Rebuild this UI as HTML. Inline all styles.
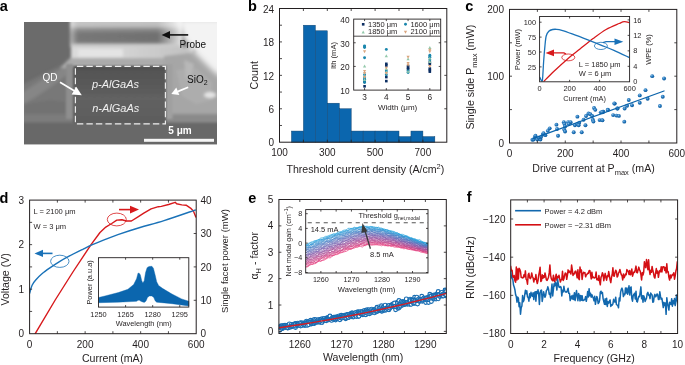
<!DOCTYPE html>
<html><head><meta charset="utf-8"><style>
html,body{margin:0;padding:0;background:#fff;}
svg{display:block;will-change:transform;font-family:"Liberation Sans", sans-serif;}
</style></head><body>
<svg width="685" height="365" viewBox="0 0 685 365">
<rect width="685" height="365" fill="#fff"/>
<defs><clipPath id="semclip"><rect x="24" y="22" width="193" height="122.3"/></clipPath><filter id="bl2" x="-20%" y="-20%" width="140%" height="140%"><feGaussianBlur stdDeviation="1.5"/></filter><filter id="bl1" x="-20%" y="-20%" width="140%" height="140%"><feGaussianBlur stdDeviation="0.8"/></filter><filter id="bl3" x="-30%" y="-30%" width="160%" height="160%"><feGaussianBlur stdDeviation="2.5"/></filter><linearGradient id="probeg" gradientUnits="userSpaceOnUse" x1="0" y1="18" x2="0" y2="47"><stop offset="0" stop-color="#cacaca"/><stop offset="0.28" stop-color="#bdbdbd"/><stop offset="0.38" stop-color="#8c8c8c"/><stop offset="0.55" stop-color="#6f6f6f"/><stop offset="0.8" stop-color="#727272"/><stop offset="1" stop-color="#9a9a9a"/></linearGradient><linearGradient id="probefade" gradientUnits="userSpaceOnUse" x1="70" y1="0" x2="182" y2="0"><stop offset="0" stop-color="#fff" stop-opacity="0.45"/><stop offset="0.07" stop-color="#fff" stop-opacity="0.05"/><stop offset="0.78" stop-color="#fff" stop-opacity="0"/><stop offset="1" stop-color="#fff" stop-opacity="0.8"/></linearGradient><linearGradient id="underg" x1="0" y1="0" x2="1" y2="0"><stop offset="0" stop-color="#dadada"/><stop offset="0.4" stop-color="#d4d4d4"/><stop offset="1" stop-color="#c0c0c0"/></linearGradient><linearGradient id="ridgeg" gradientUnits="userSpaceOnUse" x1="0" y1="66" x2="0" y2="124"><stop offset="0" stop-color="#4c4c4c"/><stop offset="0.1" stop-color="#555555"/><stop offset="0.45" stop-color="#5c5c5c"/><stop offset="0.55" stop-color="#626262"/><stop offset="1" stop-color="#5c5c5c"/></linearGradient></defs>
<g clip-path="url(#semclip)">
<rect x="24" y="22" width="193" height="123" fill="#6b6b6b"/>
<g filter="url(#bl2)">
<path d="M20 86 L40 76 L56 68 L70 62 L74 64 L74 116 L20 116 Z" fill="#787878"/>
<path d="M20 94 L45 78 L66 66 L68 74 L52 86 L34 98 L20 106 Z" fill="#868686"/>
<path d="M24 104 L50 100 L66 102 L66 114 L24 115 Z" fill="#727272"/>
<rect x="70" y="18" width="112" height="29" fill="url(#probeg)"/>
<rect x="70" y="18" width="112" height="29" fill="url(#probefade)"/>
<rect x="72" y="44" width="108" height="3.5" fill="#cacaca"/>
<rect x="71" y="47" width="122" height="13" fill="url(#underg)"/>
<rect x="78" y="49" width="45" height="8" fill="#e4e4e4"/>
<path d="M60 68 L70 58 L176 58 L184 67 Z" fill="#ababab"/>
<path d="M164 56 L200 52 L222 70 L222 116 L164 116 Z" fill="#a6a6a6"/>
<path d="M176 70 L196 68 L212 82 L212 100 L196 104 L182 96 Z" fill="#adadad"/>
<path d="M184 60 L194 64 L190 80 L186 78 Z" fill="#b8b8b8"/>
<ellipse cx="210" cy="95" rx="6" ry="3" fill="#e4e4e4"/>
<path d="M176 18 L226 18 L226 80 L214 72 L202 60 L192 50 L184 40 L180 28 Z" fill="#f3f3f3" filter="url(#bl3)"/>
<rect x="20" y="114" width="54" height="9" fill="#7c7c7c"/>
<rect x="164" y="114" width="58" height="9" fill="#8a8a8a"/>
</g>
<g filter="url(#bl1)">
<rect x="66" y="64" width="7" height="55" fill="#8e8e8e"/>
<rect x="165.5" y="64" width="7" height="55" fill="#a0a0a0"/>
</g>
<rect x="73.5" y="66" width="92.5" height="58" fill="url(#ridgeg)" filter="url(#bl1)"/>
<rect x="20" y="123.5" width="200" height="25" fill="#686868" filter="url(#bl1)"/>
</g>
<rect x="75.4" y="66.4" width="90" height="57.4" fill="none" stroke="#eeeeee" stroke-width="1.15" stroke-dasharray="6.4 3.1" stroke-dashoffset="8"/>
<rect x="144" y="138.8" width="70" height="3" fill="#f6f6f6"/>
<text x="180.00" y="134.30" font-size="10" text-anchor="middle" fill="#ffffff" font-weight="bold">5 μm</text>
<text x="115.50" y="88.30" font-size="11" text-anchor="middle" fill="#f0f0f0" font-style="italic">p-AlGaAs</text>
<text x="115.80" y="111.90" font-size="11" text-anchor="middle" fill="#f0f0f0" font-style="italic">n-AlGaAs</text>
<text x="50.00" y="81.20" font-size="10" text-anchor="middle" fill="#ffffff">QD</text>
<text x="187.00" y="83.00" font-size="10" text-anchor="start" fill="#111111">SiO<tspan font-size="7" dy="2.2">2</tspan></text>
<text x="179.50" y="48.00" font-size="10" text-anchor="start" fill="#111111">Probe</text>
<path d="M60 82.3 L75 91.3" stroke="#fff" stroke-width="1.7"/>
<path d="M81.8 95.3 L71.6 94.6 L76.3 86.8 Z" fill="#fff"/>
<path d="M188.2 87.2 L177.5 91.6" stroke="#fff" stroke-width="1.7"/>
<path d="M171.3 94.1 L176.3 87.4 L179.3 95 Z" fill="#fff"/>
<path d="M188.2 34.9 L168 34.9" stroke="#111" stroke-width="1.6"/>
<path d="M161.6 34.9 L170 31.1 L170 38.7 Z" fill="#111"/>
<text x="-0.30" y="10.60" font-size="14.5" text-anchor="start" fill="#000" font-weight="bold">a</text>
<rect x="291.45" y="131.06" width="11.95" height="11.14" fill="#0b66ae" stroke="#0d3f6a" stroke-width="0.45"/>
<rect x="303.40" y="25.21" width="11.95" height="116.99" fill="#0b66ae" stroke="#0d3f6a" stroke-width="0.45"/>
<rect x="315.35" y="30.78" width="11.95" height="111.42" fill="#0b66ae" stroke="#0d3f6a" stroke-width="0.45"/>
<rect x="327.30" y="103.20" width="11.95" height="39.00" fill="#0b66ae" stroke="#0d3f6a" stroke-width="0.45"/>
<rect x="339.25" y="108.77" width="11.95" height="33.42" fill="#0b66ae" stroke="#0d3f6a" stroke-width="0.45"/>
<rect x="351.20" y="131.06" width="11.95" height="11.14" fill="#0b66ae" stroke="#0d3f6a" stroke-width="0.45"/>
<rect x="363.15" y="131.06" width="11.95" height="11.14" fill="#0b66ae" stroke="#0d3f6a" stroke-width="0.45"/>
<rect x="375.10" y="131.06" width="11.95" height="11.14" fill="#0b66ae" stroke="#0d3f6a" stroke-width="0.45"/>
<rect x="387.05" y="131.06" width="11.95" height="11.14" fill="#0b66ae" stroke="#0d3f6a" stroke-width="0.45"/>
<rect x="399.00" y="136.63" width="11.95" height="5.57" fill="#0b66ae" stroke="#0d3f6a" stroke-width="0.45"/>
<rect x="410.95" y="131.06" width="11.95" height="11.14" fill="#0b66ae" stroke="#0d3f6a" stroke-width="0.45"/>
<rect x="422.90" y="136.63" width="11.95" height="5.57" fill="#0b66ae" stroke="#0d3f6a" stroke-width="0.45"/>
<rect x="279.50" y="8.50" width="167.30" height="133.70" fill="none" stroke="#231f20" stroke-width="1.0"/>
<path d="M303.40 142.20v-2.5M303.40 8.50v2.5M327.30 142.20v-2.5M327.30 8.50v2.5M351.20 142.20v-2.5M351.20 8.50v2.5M375.10 142.20v-2.5M375.10 8.50v2.5M399.00 142.20v-2.5M399.00 8.50v2.5M422.90 142.20v-2.5M422.90 8.50v2.5" stroke="#231f20" stroke-width="0.8" fill="none"/>
<path d="M279.50 125.49h2.5M279.50 108.77h2.5M279.50 92.06h2.5M279.50 75.35h2.5M279.50 58.64h2.5M279.50 41.92h2.5M279.50 25.21h2.5" stroke="#231f20" stroke-width="0.8" fill="none"/>
<path d="M446.80 108.77h-2.5M446.80 75.35h-2.5M446.80 41.92h-2.5" stroke="#231f20" stroke-width="0.8" fill="none"/>
<text x="279.50" y="156.00" font-size="10" text-anchor="middle" fill="#231f20">100</text>
<text x="327.30" y="156.00" font-size="10" text-anchor="middle" fill="#231f20">300</text>
<text x="375.10" y="156.00" font-size="10" text-anchor="middle" fill="#231f20">500</text>
<text x="422.90" y="156.00" font-size="10" text-anchor="middle" fill="#231f20">700</text>
<text x="274.00" y="146.40" font-size="10" text-anchor="end" fill="#231f20">0</text>
<text x="274.00" y="112.97" font-size="10" text-anchor="end" fill="#231f20">6</text>
<text x="274.00" y="79.55" font-size="10" text-anchor="end" fill="#231f20">12</text>
<text x="274.00" y="46.12" font-size="10" text-anchor="end" fill="#231f20">18</text>
<text x="274.00" y="12.70" font-size="10" text-anchor="end" fill="#231f20">24</text>
<text x="365.40" y="173.00" font-size="10.6" text-anchor="middle" fill="#231f20">Threshold current density (A/cm<tspan font-size="7.5" dy="-4">2</tspan><tspan dy="4">)</tspan></text>
<text x="258.00" y="75.30" font-size="10.6" text-anchor="middle" fill="#231f20" transform="rotate(-90 258.00 75.30)">Count</text>
<text x="248.00" y="10.70" font-size="14.5" text-anchor="start" fill="#000" font-weight="bold">b</text>
<rect x="353.7" y="19.1" width="87.00" height="71.00" fill="#fff"/>
<rect x="363.27" y="80.52" width="2.6" height="2.6" fill="#0c2e62"/>
<rect x="363.27" y="85.01" width="2.6" height="2.6" fill="#0c2e62"/>
<circle cx="364.57" cy="45.84" r="1.45" fill="#1b87ad"/>
<circle cx="364.57" cy="46.79" r="1.45" fill="#1b87ad"/>
<circle cx="364.57" cy="47.50" r="1.45" fill="#1b87ad"/>
<circle cx="364.57" cy="57.68" r="1.45" fill="#1b87ad"/>
<circle cx="364.57" cy="74.72" r="1.45" fill="#1b87ad"/>
<circle cx="364.57" cy="77.79" r="1.45" fill="#1b87ad"/>
<circle cx="364.57" cy="79.21" r="1.45" fill="#1b87ad"/>
<circle cx="364.57" cy="80.63" r="1.45" fill="#1b87ad"/>
<circle cx="364.57" cy="82.53" r="1.45" fill="#1b87ad"/>
<path d="M364.57 64.50 L366.18 67.40 L362.97 67.40 Z" fill="#93c9ab"/>
<path d="M364.57 74.67 L366.18 77.57 L362.97 77.57 Z" fill="#93c9ab"/>
<path d="M364.57 78.22 L366.18 81.12 L362.97 81.12 Z" fill="#93c9ab"/>
<path d="M364.57 53.22 L366.18 50.32 L362.97 50.32 Z" fill="#dba67f"/>
<path d="M364.57 72.87 L366.18 69.97 L362.97 69.97 Z" fill="#dba67f"/>
<path d="M364.57 75.00 L366.18 72.10 L362.97 72.10 Z" fill="#dba67f"/>
<path d="M364.57 78.78 L366.18 75.88 L362.97 75.88 Z" fill="#dba67f"/>
<rect x="385.02" y="62.53" width="2.6" height="2.6" fill="#0c2e62"/>
<rect x="385.02" y="64.19" width="2.6" height="2.6" fill="#0c2e62"/>
<rect x="385.02" y="75.78" width="2.6" height="2.6" fill="#0c2e62"/>
<rect x="385.02" y="79.81" width="2.6" height="2.6" fill="#0c2e62"/>
<circle cx="386.32" cy="49.39" r="1.45" fill="#1b87ad"/>
<circle cx="386.32" cy="70.93" r="1.45" fill="#1b87ad"/>
<circle cx="386.32" cy="74.72" r="1.45" fill="#1b87ad"/>
<path d="M386.32 54.32 L387.93 57.22 L384.72 57.22 Z" fill="#93c9ab"/>
<path d="M386.32 67.10 L387.93 70.00 L384.72 70.00 Z" fill="#93c9ab"/>
<path d="M386.32 70.41 L387.93 73.31 L384.72 73.31 Z" fill="#93c9ab"/>
<path d="M386.32 69.55 L387.93 66.65 L384.72 66.65 Z" fill="#dba67f"/>
<path d="M386.32 75.00 L387.93 72.10 L384.72 72.10 Z" fill="#dba67f"/>
<rect x="406.77" y="64.90" width="2.6" height="2.6" fill="#0c2e62"/>
<rect x="406.77" y="66.55" width="2.6" height="2.6" fill="#0c2e62"/>
<rect x="406.77" y="67.97" width="2.6" height="2.6" fill="#0c2e62"/>
<circle cx="408.07" cy="70.93" r="1.45" fill="#1b87ad"/>
<circle cx="408.07" cy="72.59" r="1.45" fill="#1b87ad"/>
<path d="M408.07 57.40 L409.68 60.30 L406.47 60.30 Z" fill="#93c9ab"/>
<path d="M408.07 69.94 L409.68 72.84 L406.47 72.84 Z" fill="#93c9ab"/>
<path d="M408.07 58.67 L409.68 55.77 L406.47 55.77 Z" fill="#dba67f"/>
<path d="M408.07 64.82 L409.68 61.92 L406.47 61.92 Z" fill="#dba67f"/>
<path d="M408.07 66.71 L409.68 63.81 L406.47 63.81 Z" fill="#dba67f"/>
<rect x="428.52" y="61.11" width="2.6" height="2.6" fill="#0c2e62"/>
<rect x="428.52" y="62.77" width="2.6" height="2.6" fill="#0c2e62"/>
<rect x="428.52" y="67.26" width="2.6" height="2.6" fill="#0c2e62"/>
<rect x="428.52" y="68.68" width="2.6" height="2.6" fill="#0c2e62"/>
<rect x="428.52" y="70.34" width="2.6" height="2.6" fill="#0c2e62"/>
<circle cx="429.82" cy="55.31" r="1.45" fill="#1b87ad"/>
<circle cx="429.82" cy="56.97" r="1.45" fill="#1b87ad"/>
<circle cx="429.82" cy="60.04" r="1.45" fill="#1b87ad"/>
<circle cx="429.82" cy="57.44" r="1.45" fill="#1b87ad"/>
<path d="M429.82 46.04 L431.43 48.94 L428.22 48.94 Z" fill="#93c9ab"/>
<path d="M429.82 56.69 L431.43 59.59 L428.22 59.59 Z" fill="#93c9ab"/>
<path d="M429.82 60.00 L431.43 62.90 L428.22 62.90 Z" fill="#93c9ab"/>
<path d="M429.82 51.57 L431.43 48.67 L428.22 48.67 Z" fill="#dba67f"/>
<path d="M429.82 53.22 L431.43 50.32 L428.22 50.32 Z" fill="#dba67f"/>
<path d="M429.82 67.90 L431.43 65.00 L428.22 65.00 Z" fill="#dba67f"/>
<rect x="353.70" y="19.10" width="87.00" height="71.00" fill="none" stroke="#231f20" stroke-width="0.9"/>
<path d="M353.7 36.2 H440.7" stroke="#231f20" stroke-width="0.8"/>
<path d="M364.57 90.10v-2M364.57 19.10v2M386.32 90.10v-2M386.32 19.10v2M408.07 90.10v-2M408.07 19.10v2M429.82 90.10v-2M429.82 19.10v2" stroke="#231f20" stroke-width="0.8" fill="none"/>
<path d="M353.70 66.43h2M440.70 66.43h-2M353.70 42.77h2M440.70 42.77h-2" stroke="#231f20" stroke-width="0.8" fill="none"/>
<text x="364.57" y="100.00" font-size="8.3" text-anchor="middle" fill="#231f20">3</text>
<text x="386.32" y="100.00" font-size="8.3" text-anchor="middle" fill="#231f20">4</text>
<text x="408.07" y="100.00" font-size="8.3" text-anchor="middle" fill="#231f20">5</text>
<text x="429.82" y="100.00" font-size="8.3" text-anchor="middle" fill="#231f20">6</text>
<text x="349.50" y="93.90" font-size="8.3" text-anchor="end" fill="#231f20">10</text>
<text x="349.50" y="70.23" font-size="8.3" text-anchor="end" fill="#231f20">20</text>
<text x="349.50" y="46.57" font-size="8.3" text-anchor="end" fill="#231f20">30</text>
<text x="349.50" y="22.90" font-size="8.3" text-anchor="end" fill="#231f20">40</text>
<text x="397.60" y="109.60" font-size="8.0" text-anchor="middle" fill="#231f20">Width (μm)</text>
<text x="335.60" y="55.50" font-size="7.6" text-anchor="middle" fill="#231f20" transform="rotate(-90 335.60 55.50)">Ith (mA)</text>
<rect x="361.90" y="23.00" width="2.6" height="2.6" fill="#0c2e62"/>
<text x="368.00" y="27.00" font-size="7.5" text-anchor="start" fill="#231f20">1350 μm</text>
<circle cx="405.50" cy="24.30" r="1.45" fill="#1b87ad"/>
<text x="410.40" y="27.00" font-size="7.5" text-anchor="start" fill="#231f20">1600 μm</text>
<path d="M363.20 30.50 L364.80 33.40 L361.60 33.40 Z" fill="#93c9ab"/>
<text x="368.00" y="34.40" font-size="7.5" text-anchor="start" fill="#231f20">1850 μm</text>
<path d="M405.50 33.70 L407.10 30.80 L403.90 30.80 Z" fill="#dba67f"/>
<text x="410.40" y="34.40" font-size="7.5" text-anchor="start" fill="#231f20">2100 μm</text>
<defs><radialGradient id="ball" cx="0.38" cy="0.35" r="0.65"><stop offset="0" stop-color="#8cc0e8"/><stop offset="0.45" stop-color="#2a7cc0"/><stop offset="1" stop-color="#0b5a9e"/></radialGradient></defs>
<circle cx="532.40" cy="139.70" r="1.95" fill="url(#ball)"/>
<circle cx="534.86" cy="136.99" r="1.95" fill="url(#ball)"/>
<circle cx="535.48" cy="135.76" r="1.95" fill="url(#ball)"/>
<circle cx="537.33" cy="139.46" r="1.95" fill="url(#ball)"/>
<circle cx="540.41" cy="139.46" r="1.95" fill="url(#ball)"/>
<circle cx="541.03" cy="136.99" r="1.95" fill="url(#ball)"/>
<circle cx="542.88" cy="134.53" r="1.95" fill="url(#ball)"/>
<circle cx="545.35" cy="135.14" r="1.95" fill="url(#ball)"/>
<circle cx="547.81" cy="130.83" r="1.95" fill="url(#ball)"/>
<circle cx="556.44" cy="124.66" r="1.95" fill="url(#ball)"/>
<circle cx="557.06" cy="128.98" r="1.95" fill="url(#ball)"/>
<circle cx="558.05" cy="135.76" r="1.95" fill="url(#ball)"/>
<circle cx="563.84" cy="122.19" r="1.95" fill="url(#ball)"/>
<circle cx="564.46" cy="124.04" r="1.95" fill="url(#ball)"/>
<circle cx="565.07" cy="126.51" r="1.95" fill="url(#ball)"/>
<circle cx="564.21" cy="129.59" r="1.95" fill="url(#ball)"/>
<circle cx="565.07" cy="131.44" r="1.95" fill="url(#ball)"/>
<circle cx="568.16" cy="122.19" r="1.95" fill="url(#ball)"/>
<circle cx="570.62" cy="122.19" r="1.95" fill="url(#ball)"/>
<circle cx="568.77" cy="124.04" r="1.95" fill="url(#ball)"/>
<circle cx="573.71" cy="132.31" r="1.95" fill="url(#ball)"/>
<circle cx="574.94" cy="125.28" r="1.95" fill="url(#ball)"/>
<circle cx="577.40" cy="124.04" r="1.95" fill="url(#ball)"/>
<circle cx="579.25" cy="122.81" r="1.95" fill="url(#ball)"/>
<circle cx="578.64" cy="125.28" r="1.95" fill="url(#ball)"/>
<circle cx="577.40" cy="116.65" r="1.95" fill="url(#ball)"/>
<circle cx="581.72" cy="132.31" r="1.95" fill="url(#ball)"/>
<circle cx="585.42" cy="125.28" r="1.95" fill="url(#ball)"/>
<circle cx="583.57" cy="119.73" r="1.95" fill="url(#ball)"/>
<circle cx="586.04" cy="116.03" r="1.95" fill="url(#ball)"/>
<circle cx="588.50" cy="113.56" r="1.95" fill="url(#ball)"/>
<circle cx="590.35" cy="114.18" r="1.95" fill="url(#ball)"/>
<circle cx="592.20" cy="116.03" r="1.95" fill="url(#ball)"/>
<circle cx="592.82" cy="119.73" r="1.95" fill="url(#ball)"/>
<circle cx="593.43" cy="121.58" r="1.95" fill="url(#ball)"/>
<circle cx="594.05" cy="108.01" r="1.95" fill="url(#ball)"/>
<circle cx="595.28" cy="109.86" r="1.95" fill="url(#ball)"/>
<circle cx="599.60" cy="120.10" r="1.95" fill="url(#ball)"/>
<circle cx="602.07" cy="120.10" r="1.95" fill="url(#ball)"/>
<circle cx="600.83" cy="112.33" r="1.95" fill="url(#ball)"/>
<circle cx="603.30" cy="111.71" r="1.95" fill="url(#ball)"/>
<circle cx="533.63" cy="139.46" r="1.95" fill="url(#ball)"/>
<circle cx="538.56" cy="137.61" r="1.95" fill="url(#ball)"/>
<circle cx="543.50" cy="133.29" r="1.95" fill="url(#ball)"/>
<circle cx="549.66" cy="128.36" r="1.95" fill="url(#ball)"/>
<circle cx="652.24" cy="76.17" r="1.95" fill="url(#ball)"/>
<circle cx="664.07" cy="78.47" r="1.95" fill="url(#ball)"/>
<circle cx="645.50" cy="90.13" r="1.95" fill="url(#ball)"/>
<circle cx="639.75" cy="95.39" r="1.95" fill="url(#ball)"/>
<circle cx="662.75" cy="96.70" r="1.95" fill="url(#ball)"/>
<circle cx="647.64" cy="98.68" r="1.95" fill="url(#ball)"/>
<circle cx="628.75" cy="99.99" r="1.95" fill="url(#ball)"/>
<circle cx="639.75" cy="102.78" r="1.95" fill="url(#ball)"/>
<circle cx="614.78" cy="103.60" r="1.95" fill="url(#ball)"/>
<circle cx="632.03" cy="105.25" r="1.95" fill="url(#ball)"/>
<circle cx="627.10" cy="105.74" r="1.95" fill="url(#ball)"/>
<circle cx="659.96" cy="106.07" r="1.95" fill="url(#ball)"/>
<circle cx="624.64" cy="108.53" r="1.95" fill="url(#ball)"/>
<circle cx="617.25" cy="108.53" r="1.95" fill="url(#ball)"/>
<circle cx="607.89" cy="109.68" r="1.95" fill="url(#ball)"/>
<circle cx="602.96" cy="111.82" r="1.95" fill="url(#ball)"/>
<circle cx="613.14" cy="115.10" r="1.95" fill="url(#ball)"/>
<circle cx="616.43" cy="115.60" r="1.95" fill="url(#ball)"/>
<circle cx="618.89" cy="115.92" r="1.95" fill="url(#ball)"/>
<circle cx="624.31" cy="121.67" r="1.95" fill="url(#ball)"/>
<circle cx="602.46" cy="120.36" r="1.95" fill="url(#ball)"/>
<circle cx="614.30" cy="103.43" r="1.95" fill="url(#ball)"/>
<circle cx="607.73" cy="110.00" r="1.95" fill="url(#ball)"/>
<circle cx="617.58" cy="108.47" r="1.95" fill="url(#ball)"/>
<circle cx="602.26" cy="112.19" r="1.95" fill="url(#ball)"/>
<path d="M533.00 138.70 L664.00 91.00" stroke="#0b63aa" stroke-width="1.3" fill="none" stroke-linejoin="round" stroke-linecap="round"/>
<rect x="509.50" y="9.40" width="167.30" height="133.60" fill="none" stroke="#231f20" stroke-width="1.0"/>
<path d="M537.38 143.00v-2.5M537.38 9.40v2.5M565.27 143.00v-2.5M565.27 9.40v2.5M593.15 143.00v-2.5M593.15 9.40v2.5M621.03 143.00v-2.5M621.03 9.40v2.5M648.92 143.00v-2.5M648.92 9.40v2.5" stroke="#231f20" stroke-width="0.8" fill="none"/>
<path d="M509.50 109.60h2.5M676.80 109.60h-2.5M509.50 76.20h2.5M676.80 76.20h-2.5M509.50 42.80h2.5M676.80 42.80h-2.5" stroke="#231f20" stroke-width="0.8" fill="none"/>
<text x="509.50" y="157.00" font-size="10" text-anchor="middle" fill="#231f20">0</text>
<text x="565.27" y="157.00" font-size="10" text-anchor="middle" fill="#231f20">200</text>
<text x="621.03" y="157.00" font-size="10" text-anchor="middle" fill="#231f20">400</text>
<text x="676.80" y="157.00" font-size="10" text-anchor="middle" fill="#231f20">600</text>
<text x="504.00" y="146.60" font-size="10" text-anchor="end" fill="#231f20">0</text>
<text x="504.00" y="79.80" font-size="10" text-anchor="end" fill="#231f20">100</text>
<text x="504.00" y="13.00" font-size="10" text-anchor="end" fill="#231f20">200</text>
<text x="593.50" y="172.00" font-size="10.6" text-anchor="middle" fill="#231f20">Drive current at P<tspan font-size="7.5" dy="2.5">max</tspan><tspan dy="-2.5"> (mA)</tspan></text>
<text x="474.50" y="77.20" font-size="10.6" text-anchor="middle" fill="#231f20" transform="rotate(-90 474.50 77.20)">Single side P<tspan font-size="7.5" dy="2.5">max</tspan><tspan dy="-2.5"> (mW)</tspan></text>
<text x="465.30" y="10.80" font-size="14.5" text-anchor="start" fill="#000" font-weight="bold">c</text>
<rect x="539.6" y="16.5" width="90.00" height="65.30" fill="#fff"/>
<g clip-path="url(#clipc)">
<path d="M543.60 81.60 C545.33 79.87 550.10 74.90 554.00 71.20 C557.90 67.50 562.67 63.10 567.00 59.40 C571.33 55.70 575.65 52.47 580.00 49.00 C584.35 45.53 588.75 41.85 593.10 38.60 C597.45 35.35 601.77 32.02 606.10 29.50 C610.43 26.98 616.07 24.80 619.10 23.50 C622.13 22.20 622.57 21.85 624.30 21.70 C626.03 21.55 628.63 22.45 629.50 22.60" stroke="#d7191c" stroke-width="1.3" fill="none" stroke-linejoin="round"/>
<path d="M539.70 77.10 C539.98 77.67 540.93 80.10 541.40 80.50 C541.87 80.90 542.13 82.58 542.50 79.50 C542.87 76.42 543.20 67.52 543.60 62.00 C544.00 56.48 544.47 50.73 544.90 46.40 C545.33 42.07 545.55 38.52 546.20 36.00 C546.85 33.48 547.72 32.38 548.80 31.30 C549.88 30.22 551.40 29.83 552.70 29.50 C554.00 29.17 555.08 29.17 556.60 29.30 C558.12 29.43 559.20 29.53 561.80 30.30 C564.40 31.07 567.85 32.30 572.20 33.90 C576.55 35.50 583.12 38.03 587.90 39.90 C592.68 41.77 596.57 43.37 600.90 45.10 C605.23 46.83 609.13 48.22 613.90 50.30 C618.67 52.38 626.90 56.38 629.50 57.60" stroke="#1a72b8" stroke-width="1.3" fill="none" stroke-linejoin="round"/>
</g>
<defs><clipPath id="clipc"><rect x="539.6" y="16.5" width="90.00" height="65.30"/></clipPath></defs>
<ellipse cx="568.3" cy="57.4" rx="6.5" ry="3.4" fill="none" stroke="#d7191c" stroke-width="0.8"/>
<path d="M566 54 L564 52.9 L551 52.9" stroke="#d7191c" stroke-width="1.3" fill="none"/>
<path d="M545.5 52.9 L554 49.6 L554 56.2 Z" fill="#d7191c"/>
<ellipse cx="600.9" cy="45.9" rx="6.5" ry="3.6" fill="none" stroke="#1a72b8" stroke-width="0.8"/>
<path d="M603 42.6 L606 41.7 L616 41.7" stroke="#1a72b8" stroke-width="1.3" fill="none"/>
<path d="M623.3 41.7 L614.5 38.4 L614.5 45 Z" fill="#1a72b8"/>
<rect x="539.60" y="16.50" width="90.00" height="65.30" fill="none" stroke="#231f20" stroke-width="0.9"/>
<path d="M569.60 81.80v-2M569.60 16.50v2M599.60 81.80v-2M599.60 16.50v2" stroke="#231f20" stroke-width="0.8" fill="none"/>
<path d="M539.60 66.90h2M539.60 52.00h2M539.60 37.10h2M539.60 22.20h2" stroke="#231f20" stroke-width="0.8" fill="none"/>
<path d="M629.60 66.33h-2M629.60 50.85h-2M629.60 35.38h-2M629.60 19.90h-2" stroke="#231f20" stroke-width="0.8" fill="none"/>
<text x="539.60" y="90.60" font-size="7.4" text-anchor="middle" fill="#231f20">0</text>
<text x="569.60" y="90.60" font-size="7.4" text-anchor="middle" fill="#231f20">200</text>
<text x="599.60" y="90.60" font-size="7.4" text-anchor="middle" fill="#231f20">400</text>
<text x="629.60" y="90.60" font-size="7.4" text-anchor="middle" fill="#231f20">600</text>
<text x="536.00" y="69.50" font-size="7.4" text-anchor="end" fill="#231f20">25</text>
<text x="536.00" y="54.60" font-size="7.4" text-anchor="end" fill="#231f20">50</text>
<text x="536.00" y="39.70" font-size="7.4" text-anchor="end" fill="#231f20">75</text>
<text x="536.00" y="24.80" font-size="7.4" text-anchor="end" fill="#231f20">100</text>
<text x="633.20" y="84.40" font-size="7.4" text-anchor="start" fill="#231f20">0</text>
<text x="633.20" y="68.92" font-size="7.4" text-anchor="start" fill="#231f20">4</text>
<text x="633.20" y="53.45" font-size="7.4" text-anchor="start" fill="#231f20">8</text>
<text x="633.20" y="37.98" font-size="7.4" text-anchor="start" fill="#231f20">12</text>
<text x="633.20" y="22.50" font-size="7.4" text-anchor="start" fill="#231f20">16</text>
<text x="584.60" y="101.00" font-size="7.4" text-anchor="middle" fill="#231f20">Current (mA)</text>
<text x="519.80" y="49.50" font-size="7.4" text-anchor="middle" fill="#231f20" transform="rotate(-90 519.80 49.50)">Power (mW)</text>
<text x="651.30" y="49.50" font-size="7.4" text-anchor="middle" fill="#231f20" transform="rotate(-90 651.30 49.50)">WPE (%)</text>
<text x="578.80" y="66.70" font-size="7.5" text-anchor="start" fill="#231f20">L = 1850 μm</text>
<text x="578.80" y="75.80" font-size="7.5" text-anchor="start" fill="#231f20">W = 6 μm</text>
<defs><clipPath id="clipd"><rect x="29.6" y="200.1" width="166.6" height="133.6"/></clipPath></defs>
<g clip-path="url(#clipd)">
<path d="M35.20 333.70 L55.20 300.00 L72.90 272.00 L91.40 244.10 L100.00 232.50 L105.80 227.10 L111.70 223.50 L116.80 220.10 L121.90 219.80 L126.30 221.00 L131.40 221.00 L138.00 216.90 L143.80 213.20 L151.10 208.90 L158.40 206.70 L161.30 206.40 L168.60 204.50 L175.20 202.30 L176.60 203.80 L181.80 204.90 L186.10 205.20 L190.50 208.10 L193.40 211.10 L195.80 217.00" stroke="#d7191c" stroke-width="1.4" fill="none" stroke-linejoin="round" stroke-linecap="round"/>
<path d="M29.60 293.50 C30.02 292.12 31.00 287.53 32.10 285.20 C33.20 282.87 34.60 281.37 36.20 279.50 C37.80 277.63 39.42 275.93 41.70 274.00 C43.98 272.07 46.93 269.97 49.90 267.90 C52.87 265.83 56.30 263.55 59.50 261.60 C62.70 259.65 65.22 258.25 69.10 256.20 C72.98 254.15 78.92 251.22 82.80 249.30 C86.68 247.38 88.75 246.30 92.40 244.70 C96.05 243.10 100.45 241.38 104.70 239.70 C108.95 238.02 112.02 236.63 117.90 234.60 C123.78 232.57 132.32 229.83 140.00 227.50 C147.68 225.17 154.70 223.55 164.00 220.60 C173.30 217.65 190.50 211.60 195.80 209.80" stroke="#1a72b8" stroke-width="1.4" fill="none" stroke-linejoin="round"/>
</g>
<ellipse cx="116.8" cy="219.5" rx="9.5" ry="6.4" fill="none" stroke="#d7191c" stroke-width="0.8"/>
<path d="M119 209.6 L132 209.6" stroke="#d7191c" stroke-width="1.6"/>
<path d="M139 209.6 L130 205.8 L130 213.4 Z" fill="#d7191c"/>
<ellipse cx="59.8" cy="261.3" rx="9.2" ry="6.1" fill="none" stroke="#1a72b8" stroke-width="0.8"/>
<path d="M52.5 253.4 L41 253.4" stroke="#1a72b8" stroke-width="1.6"/>
<path d="M34.5 253.4 L43 249.7 L43 257.1 Z" fill="#1a72b8"/>
<rect x="29.60" y="200.10" width="166.60" height="133.60" fill="none" stroke="#231f20" stroke-width="1.0"/>
<path d="M57.37 333.70v-2.5M57.37 200.10v2.5M85.13 333.70v-2.5M85.13 200.10v2.5M112.90 333.70v-2.5M112.90 200.10v2.5M140.67 333.70v-2.5M140.67 200.10v2.5M168.43 333.70v-2.5M168.43 200.10v2.5" stroke="#231f20" stroke-width="0.8" fill="none"/>
<path d="M29.60 311.43h2.5M29.60 289.17h2.5M29.60 266.90h2.5M29.60 244.63h2.5M29.60 222.37h2.5" stroke="#231f20" stroke-width="0.8" fill="none"/>
<path d="M196.20 300.30h-2.5M196.20 266.90h-2.5M196.20 233.50h-2.5" stroke="#231f20" stroke-width="0.8" fill="none"/>
<text x="29.60" y="347.50" font-size="10" text-anchor="middle" fill="#231f20">0</text>
<text x="85.13" y="347.50" font-size="10" text-anchor="middle" fill="#231f20">200</text>
<text x="140.67" y="347.50" font-size="10" text-anchor="middle" fill="#231f20">400</text>
<text x="196.20" y="347.50" font-size="10" text-anchor="middle" fill="#231f20">600</text>
<text x="24.00" y="337.30" font-size="10" text-anchor="end" fill="#231f20">0</text>
<text x="24.00" y="292.77" font-size="10" text-anchor="end" fill="#231f20">1</text>
<text x="24.00" y="248.23" font-size="10" text-anchor="end" fill="#231f20">2</text>
<text x="24.00" y="203.70" font-size="10" text-anchor="end" fill="#231f20">3</text>
<text x="200.50" y="337.30" font-size="10" text-anchor="start" fill="#231f20">0</text>
<text x="200.50" y="303.90" font-size="10" text-anchor="start" fill="#231f20">10</text>
<text x="200.50" y="270.50" font-size="10" text-anchor="start" fill="#231f20">20</text>
<text x="200.50" y="237.10" font-size="10" text-anchor="start" fill="#231f20">30</text>
<text x="200.50" y="203.70" font-size="10" text-anchor="start" fill="#231f20">40</text>
<text x="112.50" y="362.00" font-size="10.6" text-anchor="middle" fill="#231f20">Current (mA)</text>
<text x="9.20" y="279.40" font-size="10.6" text-anchor="middle" fill="#231f20" transform="rotate(-90 9.20 279.40)">Voltage (V)</text>
<text x="227.60" y="261.10" font-size="9.5" text-anchor="middle" fill="#231f20" transform="rotate(-90 227.60 261.10)">Single facet power (mW)</text>
<text x="-0.50" y="202.70" font-size="14.5" text-anchor="start" fill="#000" font-weight="bold">d</text>
<text x="33.50" y="214.30" font-size="7.55" text-anchor="start" fill="#231f20">L = 2100 μm</text>
<text x="33.50" y="228.50" font-size="7.55" text-anchor="start" fill="#231f20">W = 3 μm</text>
<rect x="98.5" y="257.7" width="90.30" height="49.40" fill="#fff"/>
<path d="M98.59 297.54 L104.92 296.00 L118.34 292.55 L127.92 289.29 L133.67 284.50 L136.55 278.75 L138.08 273.00 L139.42 273.39 L140.38 274.92 L141.72 280.67 L142.87 282.97 L144.21 280.67 L145.55 272.62 L147.09 267.63 L149.01 266.48 L151.88 266.29 L153.41 268.21 L155.14 274.92 L156.67 281.63 L158.59 285.46 L162.42 288.34 L172.01 294.09 L181.59 298.88 L188.87 301.37 L188.87 305.97 L172.01 303.67 L156.67 302.14 L155.14 300.80 L153.80 297.54 L151.88 296.00 L149.39 296.00 L147.47 297.54 L146.13 300.80 L144.79 302.14 L143.25 302.14 L140.95 301.37 L139.42 300.22 L138.08 300.22 L136.55 301.37 L118.34 302.14 L98.59 302.71 Z" fill="#0b66ae" stroke="#0b66ae" stroke-width="0.4" stroke-linejoin="round"/>
<rect x="98.50" y="257.70" width="90.30" height="49.40" fill="none" stroke="#231f20" stroke-width="0.9"/>
<path d="M125.59 307.10v-2M125.59 257.70v2M152.68 307.10v-2M152.68 257.70v2M179.77 307.10v-2M179.77 257.70v2" stroke="#231f20" stroke-width="0.8" fill="none"/>
<text x="98.50" y="316.50" font-size="7.4" text-anchor="middle" fill="#231f20">1250</text>
<text x="125.59" y="316.50" font-size="7.4" text-anchor="middle" fill="#231f20">1265</text>
<text x="152.68" y="316.50" font-size="7.4" text-anchor="middle" fill="#231f20">1280</text>
<text x="179.77" y="316.50" font-size="7.4" text-anchor="middle" fill="#231f20">1295</text>
<text x="143.70" y="326.30" font-size="7.4" text-anchor="middle" fill="#231f20">Wavelength (nm)</text>
<text x="92.30" y="282.40" font-size="7.4" text-anchor="middle" fill="#231f20" transform="rotate(-90 92.30 282.40)">Power (a.u.a)</text>
<g clip-path="url(#clipe)">
<circle cx="278.57" cy="326.52" r="1.9" fill="#ffffff" stroke="#176cb2" stroke-width="1.15"/>
<circle cx="279.03" cy="327.05" r="1.9" fill="#ffffff" stroke="#176cb2" stroke-width="1.15"/>
<circle cx="279.06" cy="327.42" r="1.9" fill="#ffffff" stroke="#176cb2" stroke-width="1.15"/>
<circle cx="280.24" cy="327.18" r="1.9" fill="#ffffff" stroke="#176cb2" stroke-width="1.15"/>
<circle cx="279.52" cy="327.51" r="1.9" fill="#ffffff" stroke="#176cb2" stroke-width="1.15"/>
<circle cx="279.78" cy="330.15" r="1.9" fill="#ffffff" stroke="#176cb2" stroke-width="1.15"/>
<circle cx="281.16" cy="325.70" r="1.9" fill="#ffffff" stroke="#176cb2" stroke-width="1.15"/>
<circle cx="280.30" cy="327.30" r="1.9" fill="#ffffff" stroke="#176cb2" stroke-width="1.15"/>
<circle cx="280.91" cy="327.77" r="1.9" fill="#ffffff" stroke="#176cb2" stroke-width="1.15"/>
<circle cx="281.96" cy="326.05" r="1.9" fill="#ffffff" stroke="#176cb2" stroke-width="1.15"/>
<circle cx="281.88" cy="328.31" r="1.9" fill="#ffffff" stroke="#176cb2" stroke-width="1.15"/>
<circle cx="281.78" cy="327.51" r="1.9" fill="#ffffff" stroke="#176cb2" stroke-width="1.15"/>
<circle cx="282.33" cy="328.63" r="1.9" fill="#ffffff" stroke="#176cb2" stroke-width="1.15"/>
<circle cx="282.55" cy="327.15" r="1.9" fill="#ffffff" stroke="#176cb2" stroke-width="1.15"/>
<circle cx="282.86" cy="327.80" r="1.9" fill="#ffffff" stroke="#176cb2" stroke-width="1.15"/>
<circle cx="284.03" cy="325.57" r="1.9" fill="#ffffff" stroke="#176cb2" stroke-width="1.15"/>
<circle cx="283.37" cy="326.99" r="1.9" fill="#ffffff" stroke="#176cb2" stroke-width="1.15"/>
<circle cx="284.05" cy="325.62" r="1.9" fill="#ffffff" stroke="#176cb2" stroke-width="1.15"/>
<circle cx="284.90" cy="326.87" r="1.9" fill="#ffffff" stroke="#176cb2" stroke-width="1.15"/>
<circle cx="284.07" cy="326.86" r="1.9" fill="#ffffff" stroke="#176cb2" stroke-width="1.15"/>
<circle cx="285.01" cy="325.24" r="1.9" fill="#ffffff" stroke="#176cb2" stroke-width="1.15"/>
<circle cx="285.10" cy="326.94" r="1.9" fill="#ffffff" stroke="#176cb2" stroke-width="1.15"/>
<circle cx="285.35" cy="325.74" r="1.9" fill="#ffffff" stroke="#176cb2" stroke-width="1.15"/>
<circle cx="285.45" cy="326.95" r="1.9" fill="#ffffff" stroke="#176cb2" stroke-width="1.15"/>
<circle cx="286.37" cy="327.42" r="1.9" fill="#ffffff" stroke="#176cb2" stroke-width="1.15"/>
<circle cx="286.80" cy="325.37" r="1.9" fill="#ffffff" stroke="#176cb2" stroke-width="1.15"/>
<circle cx="286.71" cy="327.60" r="1.9" fill="#ffffff" stroke="#176cb2" stroke-width="1.15"/>
<circle cx="286.76" cy="326.11" r="1.9" fill="#ffffff" stroke="#176cb2" stroke-width="1.15"/>
<circle cx="287.64" cy="328.06" r="1.9" fill="#ffffff" stroke="#176cb2" stroke-width="1.15"/>
<circle cx="287.27" cy="325.66" r="1.9" fill="#ffffff" stroke="#176cb2" stroke-width="1.15"/>
<circle cx="288.38" cy="326.39" r="1.9" fill="#ffffff" stroke="#176cb2" stroke-width="1.15"/>
<circle cx="288.20" cy="327.72" r="1.9" fill="#ffffff" stroke="#176cb2" stroke-width="1.15"/>
<circle cx="287.84" cy="327.74" r="1.9" fill="#ffffff" stroke="#176cb2" stroke-width="1.15"/>
<circle cx="289.64" cy="326.49" r="1.9" fill="#ffffff" stroke="#176cb2" stroke-width="1.15"/>
<circle cx="288.51" cy="326.24" r="1.9" fill="#ffffff" stroke="#176cb2" stroke-width="1.15"/>
<circle cx="288.59" cy="324.99" r="1.9" fill="#ffffff" stroke="#176cb2" stroke-width="1.15"/>
<circle cx="289.69" cy="325.99" r="1.9" fill="#ffffff" stroke="#176cb2" stroke-width="1.15"/>
<circle cx="289.38" cy="323.88" r="1.9" fill="#ffffff" stroke="#176cb2" stroke-width="1.15"/>
<circle cx="290.09" cy="327.17" r="1.9" fill="#ffffff" stroke="#176cb2" stroke-width="1.15"/>
<circle cx="290.66" cy="326.04" r="1.9" fill="#ffffff" stroke="#176cb2" stroke-width="1.15"/>
<circle cx="291.35" cy="326.65" r="1.9" fill="#ffffff" stroke="#176cb2" stroke-width="1.15"/>
<circle cx="291.49" cy="325.35" r="1.9" fill="#ffffff" stroke="#176cb2" stroke-width="1.15"/>
<circle cx="291.55" cy="326.64" r="1.9" fill="#ffffff" stroke="#176cb2" stroke-width="1.15"/>
<circle cx="291.20" cy="326.14" r="1.9" fill="#ffffff" stroke="#176cb2" stroke-width="1.15"/>
<circle cx="291.41" cy="324.39" r="1.9" fill="#ffffff" stroke="#176cb2" stroke-width="1.15"/>
<circle cx="292.28" cy="326.10" r="1.9" fill="#ffffff" stroke="#176cb2" stroke-width="1.15"/>
<circle cx="292.14" cy="325.96" r="1.9" fill="#ffffff" stroke="#176cb2" stroke-width="1.15"/>
<circle cx="293.29" cy="324.60" r="1.9" fill="#ffffff" stroke="#176cb2" stroke-width="1.15"/>
<circle cx="294.13" cy="324.31" r="1.9" fill="#ffffff" stroke="#176cb2" stroke-width="1.15"/>
<circle cx="293.66" cy="325.92" r="1.9" fill="#ffffff" stroke="#176cb2" stroke-width="1.15"/>
<circle cx="293.81" cy="324.11" r="1.9" fill="#ffffff" stroke="#176cb2" stroke-width="1.15"/>
<circle cx="294.70" cy="324.29" r="1.9" fill="#ffffff" stroke="#176cb2" stroke-width="1.15"/>
<circle cx="295.11" cy="323.90" r="1.9" fill="#ffffff" stroke="#176cb2" stroke-width="1.15"/>
<circle cx="294.83" cy="324.94" r="1.9" fill="#ffffff" stroke="#176cb2" stroke-width="1.15"/>
<circle cx="295.14" cy="324.08" r="1.9" fill="#ffffff" stroke="#176cb2" stroke-width="1.15"/>
<circle cx="295.50" cy="327.48" r="1.9" fill="#ffffff" stroke="#176cb2" stroke-width="1.15"/>
<circle cx="295.53" cy="325.90" r="1.9" fill="#ffffff" stroke="#176cb2" stroke-width="1.15"/>
<circle cx="296.49" cy="324.81" r="1.9" fill="#ffffff" stroke="#176cb2" stroke-width="1.15"/>
<circle cx="295.79" cy="323.80" r="1.9" fill="#ffffff" stroke="#176cb2" stroke-width="1.15"/>
<circle cx="295.84" cy="323.90" r="1.9" fill="#ffffff" stroke="#176cb2" stroke-width="1.15"/>
<circle cx="297.47" cy="323.11" r="1.9" fill="#ffffff" stroke="#176cb2" stroke-width="1.15"/>
<circle cx="297.13" cy="324.95" r="1.9" fill="#ffffff" stroke="#176cb2" stroke-width="1.15"/>
<circle cx="297.57" cy="324.55" r="1.9" fill="#ffffff" stroke="#176cb2" stroke-width="1.15"/>
<circle cx="297.68" cy="324.34" r="1.9" fill="#ffffff" stroke="#176cb2" stroke-width="1.15"/>
<circle cx="298.46" cy="325.18" r="1.9" fill="#ffffff" stroke="#176cb2" stroke-width="1.15"/>
<circle cx="298.18" cy="324.30" r="1.9" fill="#ffffff" stroke="#176cb2" stroke-width="1.15"/>
<circle cx="299.27" cy="323.90" r="1.9" fill="#ffffff" stroke="#176cb2" stroke-width="1.15"/>
<circle cx="298.92" cy="325.23" r="1.9" fill="#ffffff" stroke="#176cb2" stroke-width="1.15"/>
<circle cx="298.99" cy="323.65" r="1.9" fill="#ffffff" stroke="#176cb2" stroke-width="1.15"/>
<circle cx="299.92" cy="323.72" r="1.9" fill="#ffffff" stroke="#176cb2" stroke-width="1.15"/>
<circle cx="300.42" cy="325.43" r="1.9" fill="#ffffff" stroke="#176cb2" stroke-width="1.15"/>
<circle cx="300.37" cy="324.36" r="1.9" fill="#ffffff" stroke="#176cb2" stroke-width="1.15"/>
<circle cx="300.76" cy="324.39" r="1.9" fill="#ffffff" stroke="#176cb2" stroke-width="1.15"/>
<circle cx="300.67" cy="325.90" r="1.9" fill="#ffffff" stroke="#176cb2" stroke-width="1.15"/>
<circle cx="300.60" cy="322.65" r="1.9" fill="#ffffff" stroke="#176cb2" stroke-width="1.15"/>
<circle cx="301.42" cy="324.60" r="1.9" fill="#ffffff" stroke="#176cb2" stroke-width="1.15"/>
<circle cx="301.69" cy="322.96" r="1.9" fill="#ffffff" stroke="#176cb2" stroke-width="1.15"/>
<circle cx="301.84" cy="325.58" r="1.9" fill="#ffffff" stroke="#176cb2" stroke-width="1.15"/>
<circle cx="303.28" cy="324.13" r="1.9" fill="#ffffff" stroke="#176cb2" stroke-width="1.15"/>
<circle cx="303.03" cy="324.53" r="1.9" fill="#ffffff" stroke="#176cb2" stroke-width="1.15"/>
<circle cx="303.32" cy="322.97" r="1.9" fill="#ffffff" stroke="#176cb2" stroke-width="1.15"/>
<circle cx="303.28" cy="323.90" r="1.9" fill="#ffffff" stroke="#176cb2" stroke-width="1.15"/>
<circle cx="303.80" cy="324.28" r="1.9" fill="#ffffff" stroke="#176cb2" stroke-width="1.15"/>
<circle cx="304.18" cy="325.28" r="1.9" fill="#ffffff" stroke="#176cb2" stroke-width="1.15"/>
<circle cx="304.28" cy="323.18" r="1.9" fill="#ffffff" stroke="#176cb2" stroke-width="1.15"/>
<circle cx="304.86" cy="325.28" r="1.9" fill="#ffffff" stroke="#176cb2" stroke-width="1.15"/>
<circle cx="305.06" cy="323.08" r="1.9" fill="#ffffff" stroke="#176cb2" stroke-width="1.15"/>
<circle cx="305.34" cy="323.80" r="1.9" fill="#ffffff" stroke="#176cb2" stroke-width="1.15"/>
<circle cx="305.97" cy="323.12" r="1.9" fill="#ffffff" stroke="#176cb2" stroke-width="1.15"/>
<circle cx="305.50" cy="324.28" r="1.9" fill="#ffffff" stroke="#176cb2" stroke-width="1.15"/>
<circle cx="306.42" cy="321.19" r="1.9" fill="#ffffff" stroke="#176cb2" stroke-width="1.15"/>
<circle cx="306.09" cy="324.50" r="1.9" fill="#ffffff" stroke="#176cb2" stroke-width="1.15"/>
<circle cx="305.90" cy="325.28" r="1.9" fill="#ffffff" stroke="#176cb2" stroke-width="1.15"/>
<circle cx="308.05" cy="322.15" r="1.9" fill="#ffffff" stroke="#176cb2" stroke-width="1.15"/>
<circle cx="307.36" cy="325.32" r="1.9" fill="#ffffff" stroke="#176cb2" stroke-width="1.15"/>
<circle cx="307.09" cy="322.33" r="1.9" fill="#ffffff" stroke="#176cb2" stroke-width="1.15"/>
<circle cx="308.67" cy="323.62" r="1.9" fill="#ffffff" stroke="#176cb2" stroke-width="1.15"/>
<circle cx="308.39" cy="321.52" r="1.9" fill="#ffffff" stroke="#176cb2" stroke-width="1.15"/>
<circle cx="308.10" cy="322.49" r="1.9" fill="#ffffff" stroke="#176cb2" stroke-width="1.15"/>
<circle cx="308.74" cy="323.44" r="1.9" fill="#ffffff" stroke="#176cb2" stroke-width="1.15"/>
<circle cx="309.39" cy="322.25" r="1.9" fill="#ffffff" stroke="#176cb2" stroke-width="1.15"/>
<circle cx="308.71" cy="324.69" r="1.9" fill="#ffffff" stroke="#176cb2" stroke-width="1.15"/>
<circle cx="310.71" cy="321.64" r="1.9" fill="#ffffff" stroke="#176cb2" stroke-width="1.15"/>
<circle cx="310.70" cy="320.20" r="1.9" fill="#ffffff" stroke="#176cb2" stroke-width="1.15"/>
<circle cx="310.71" cy="322.33" r="1.9" fill="#ffffff" stroke="#176cb2" stroke-width="1.15"/>
<circle cx="311.43" cy="322.28" r="1.9" fill="#ffffff" stroke="#176cb2" stroke-width="1.15"/>
<circle cx="310.71" cy="321.99" r="1.9" fill="#ffffff" stroke="#176cb2" stroke-width="1.15"/>
<circle cx="311.16" cy="323.91" r="1.9" fill="#ffffff" stroke="#176cb2" stroke-width="1.15"/>
<circle cx="311.94" cy="323.65" r="1.9" fill="#ffffff" stroke="#176cb2" stroke-width="1.15"/>
<circle cx="311.85" cy="321.74" r="1.9" fill="#ffffff" stroke="#176cb2" stroke-width="1.15"/>
<circle cx="311.73" cy="323.10" r="1.9" fill="#ffffff" stroke="#176cb2" stroke-width="1.15"/>
<circle cx="313.32" cy="321.10" r="1.9" fill="#ffffff" stroke="#176cb2" stroke-width="1.15"/>
<circle cx="312.78" cy="322.57" r="1.9" fill="#ffffff" stroke="#176cb2" stroke-width="1.15"/>
<circle cx="313.36" cy="323.31" r="1.9" fill="#ffffff" stroke="#176cb2" stroke-width="1.15"/>
<circle cx="313.47" cy="322.66" r="1.9" fill="#ffffff" stroke="#176cb2" stroke-width="1.15"/>
<circle cx="314.27" cy="319.51" r="1.9" fill="#ffffff" stroke="#176cb2" stroke-width="1.15"/>
<circle cx="314.29" cy="323.42" r="1.9" fill="#ffffff" stroke="#176cb2" stroke-width="1.15"/>
<circle cx="315.26" cy="321.80" r="1.9" fill="#ffffff" stroke="#176cb2" stroke-width="1.15"/>
<circle cx="314.24" cy="321.78" r="1.9" fill="#ffffff" stroke="#176cb2" stroke-width="1.15"/>
<circle cx="314.84" cy="322.65" r="1.9" fill="#ffffff" stroke="#176cb2" stroke-width="1.15"/>
<circle cx="315.63" cy="319.79" r="1.9" fill="#ffffff" stroke="#176cb2" stroke-width="1.15"/>
<circle cx="315.10" cy="322.07" r="1.9" fill="#ffffff" stroke="#176cb2" stroke-width="1.15"/>
<circle cx="315.17" cy="322.13" r="1.9" fill="#ffffff" stroke="#176cb2" stroke-width="1.15"/>
<circle cx="316.11" cy="321.99" r="1.9" fill="#ffffff" stroke="#176cb2" stroke-width="1.15"/>
<circle cx="317.24" cy="321.68" r="1.9" fill="#ffffff" stroke="#176cb2" stroke-width="1.15"/>
<circle cx="316.65" cy="321.12" r="1.9" fill="#ffffff" stroke="#176cb2" stroke-width="1.15"/>
<circle cx="317.34" cy="320.97" r="1.9" fill="#ffffff" stroke="#176cb2" stroke-width="1.15"/>
<circle cx="317.75" cy="322.25" r="1.9" fill="#ffffff" stroke="#176cb2" stroke-width="1.15"/>
<circle cx="317.68" cy="320.85" r="1.9" fill="#ffffff" stroke="#176cb2" stroke-width="1.15"/>
<circle cx="318.28" cy="321.77" r="1.9" fill="#ffffff" stroke="#176cb2" stroke-width="1.15"/>
<circle cx="318.02" cy="319.60" r="1.9" fill="#ffffff" stroke="#176cb2" stroke-width="1.15"/>
<circle cx="318.34" cy="320.60" r="1.9" fill="#ffffff" stroke="#176cb2" stroke-width="1.15"/>
<circle cx="318.88" cy="321.58" r="1.9" fill="#ffffff" stroke="#176cb2" stroke-width="1.15"/>
<circle cx="319.54" cy="321.97" r="1.9" fill="#ffffff" stroke="#176cb2" stroke-width="1.15"/>
<circle cx="319.77" cy="319.49" r="1.9" fill="#ffffff" stroke="#176cb2" stroke-width="1.15"/>
<circle cx="320.49" cy="322.22" r="1.9" fill="#ffffff" stroke="#176cb2" stroke-width="1.15"/>
<circle cx="320.25" cy="319.96" r="1.9" fill="#ffffff" stroke="#176cb2" stroke-width="1.15"/>
<circle cx="320.59" cy="321.76" r="1.9" fill="#ffffff" stroke="#176cb2" stroke-width="1.15"/>
<circle cx="321.15" cy="320.29" r="1.9" fill="#ffffff" stroke="#176cb2" stroke-width="1.15"/>
<circle cx="320.93" cy="319.58" r="1.9" fill="#ffffff" stroke="#176cb2" stroke-width="1.15"/>
<circle cx="321.30" cy="320.55" r="1.9" fill="#ffffff" stroke="#176cb2" stroke-width="1.15"/>
<circle cx="322.08" cy="320.15" r="1.9" fill="#ffffff" stroke="#176cb2" stroke-width="1.15"/>
<circle cx="322.08" cy="322.50" r="1.9" fill="#ffffff" stroke="#176cb2" stroke-width="1.15"/>
<circle cx="322.02" cy="318.75" r="1.9" fill="#ffffff" stroke="#176cb2" stroke-width="1.15"/>
<circle cx="323.59" cy="320.52" r="1.9" fill="#ffffff" stroke="#176cb2" stroke-width="1.15"/>
<circle cx="323.05" cy="319.54" r="1.9" fill="#ffffff" stroke="#176cb2" stroke-width="1.15"/>
<circle cx="322.62" cy="321.11" r="1.9" fill="#ffffff" stroke="#176cb2" stroke-width="1.15"/>
<circle cx="324.50" cy="318.58" r="1.9" fill="#ffffff" stroke="#176cb2" stroke-width="1.15"/>
<circle cx="324.38" cy="319.24" r="1.9" fill="#ffffff" stroke="#176cb2" stroke-width="1.15"/>
<circle cx="324.09" cy="318.60" r="1.9" fill="#ffffff" stroke="#176cb2" stroke-width="1.15"/>
<circle cx="324.44" cy="320.05" r="1.9" fill="#ffffff" stroke="#176cb2" stroke-width="1.15"/>
<circle cx="324.49" cy="320.08" r="1.9" fill="#ffffff" stroke="#176cb2" stroke-width="1.15"/>
<circle cx="325.28" cy="320.49" r="1.9" fill="#ffffff" stroke="#176cb2" stroke-width="1.15"/>
<circle cx="325.35" cy="320.13" r="1.9" fill="#ffffff" stroke="#176cb2" stroke-width="1.15"/>
<circle cx="326.33" cy="319.93" r="1.9" fill="#ffffff" stroke="#176cb2" stroke-width="1.15"/>
<circle cx="326.28" cy="320.05" r="1.9" fill="#ffffff" stroke="#176cb2" stroke-width="1.15"/>
<circle cx="326.30" cy="320.79" r="1.9" fill="#ffffff" stroke="#176cb2" stroke-width="1.15"/>
<circle cx="327.20" cy="318.22" r="1.9" fill="#ffffff" stroke="#176cb2" stroke-width="1.15"/>
<circle cx="327.34" cy="317.81" r="1.9" fill="#ffffff" stroke="#176cb2" stroke-width="1.15"/>
<circle cx="327.11" cy="318.69" r="1.9" fill="#ffffff" stroke="#176cb2" stroke-width="1.15"/>
<circle cx="328.03" cy="317.68" r="1.9" fill="#ffffff" stroke="#176cb2" stroke-width="1.15"/>
<circle cx="327.20" cy="319.53" r="1.9" fill="#ffffff" stroke="#176cb2" stroke-width="1.15"/>
<circle cx="328.93" cy="319.74" r="1.9" fill="#ffffff" stroke="#176cb2" stroke-width="1.15"/>
<circle cx="328.40" cy="319.29" r="1.9" fill="#ffffff" stroke="#176cb2" stroke-width="1.15"/>
<circle cx="328.70" cy="319.81" r="1.9" fill="#ffffff" stroke="#176cb2" stroke-width="1.15"/>
<circle cx="329.14" cy="318.55" r="1.9" fill="#ffffff" stroke="#176cb2" stroke-width="1.15"/>
<circle cx="329.22" cy="317.84" r="1.9" fill="#ffffff" stroke="#176cb2" stroke-width="1.15"/>
<circle cx="329.41" cy="317.97" r="1.9" fill="#ffffff" stroke="#176cb2" stroke-width="1.15"/>
<circle cx="330.29" cy="318.24" r="1.9" fill="#ffffff" stroke="#176cb2" stroke-width="1.15"/>
<circle cx="330.36" cy="319.76" r="1.9" fill="#ffffff" stroke="#176cb2" stroke-width="1.15"/>
<circle cx="329.94" cy="316.02" r="1.9" fill="#ffffff" stroke="#176cb2" stroke-width="1.15"/>
<circle cx="331.27" cy="318.93" r="1.9" fill="#ffffff" stroke="#176cb2" stroke-width="1.15"/>
<circle cx="331.69" cy="319.83" r="1.9" fill="#ffffff" stroke="#176cb2" stroke-width="1.15"/>
<circle cx="331.70" cy="320.39" r="1.9" fill="#ffffff" stroke="#176cb2" stroke-width="1.15"/>
<circle cx="332.52" cy="317.35" r="1.9" fill="#ffffff" stroke="#176cb2" stroke-width="1.15"/>
<circle cx="332.48" cy="318.57" r="1.9" fill="#ffffff" stroke="#176cb2" stroke-width="1.15"/>
<circle cx="332.80" cy="318.98" r="1.9" fill="#ffffff" stroke="#176cb2" stroke-width="1.15"/>
<circle cx="333.53" cy="318.96" r="1.9" fill="#ffffff" stroke="#176cb2" stroke-width="1.15"/>
<circle cx="333.74" cy="317.20" r="1.9" fill="#ffffff" stroke="#176cb2" stroke-width="1.15"/>
<circle cx="333.50" cy="318.39" r="1.9" fill="#ffffff" stroke="#176cb2" stroke-width="1.15"/>
<circle cx="333.75" cy="318.40" r="1.9" fill="#ffffff" stroke="#176cb2" stroke-width="1.15"/>
<circle cx="334.25" cy="319.19" r="1.9" fill="#ffffff" stroke="#176cb2" stroke-width="1.15"/>
<circle cx="333.91" cy="318.66" r="1.9" fill="#ffffff" stroke="#176cb2" stroke-width="1.15"/>
<circle cx="335.63" cy="319.98" r="1.9" fill="#ffffff" stroke="#176cb2" stroke-width="1.15"/>
<circle cx="334.81" cy="317.95" r="1.9" fill="#ffffff" stroke="#176cb2" stroke-width="1.15"/>
<circle cx="335.51" cy="316.97" r="1.9" fill="#ffffff" stroke="#176cb2" stroke-width="1.15"/>
<circle cx="336.09" cy="317.97" r="1.9" fill="#ffffff" stroke="#176cb2" stroke-width="1.15"/>
<circle cx="335.38" cy="319.03" r="1.9" fill="#ffffff" stroke="#176cb2" stroke-width="1.15"/>
<circle cx="335.96" cy="317.53" r="1.9" fill="#ffffff" stroke="#176cb2" stroke-width="1.15"/>
<circle cx="336.73" cy="318.44" r="1.9" fill="#ffffff" stroke="#176cb2" stroke-width="1.15"/>
<circle cx="336.68" cy="318.05" r="1.9" fill="#ffffff" stroke="#176cb2" stroke-width="1.15"/>
<circle cx="337.52" cy="317.13" r="1.9" fill="#ffffff" stroke="#176cb2" stroke-width="1.15"/>
<circle cx="337.80" cy="316.63" r="1.9" fill="#ffffff" stroke="#176cb2" stroke-width="1.15"/>
<circle cx="338.24" cy="316.86" r="1.9" fill="#ffffff" stroke="#176cb2" stroke-width="1.15"/>
<circle cx="338.23" cy="316.36" r="1.9" fill="#ffffff" stroke="#176cb2" stroke-width="1.15"/>
<circle cx="339.02" cy="317.02" r="1.9" fill="#ffffff" stroke="#176cb2" stroke-width="1.15"/>
<circle cx="339.19" cy="315.87" r="1.9" fill="#ffffff" stroke="#176cb2" stroke-width="1.15"/>
<circle cx="339.32" cy="318.63" r="1.9" fill="#ffffff" stroke="#176cb2" stroke-width="1.15"/>
<circle cx="339.63" cy="317.52" r="1.9" fill="#ffffff" stroke="#176cb2" stroke-width="1.15"/>
<circle cx="339.94" cy="318.24" r="1.9" fill="#ffffff" stroke="#176cb2" stroke-width="1.15"/>
<circle cx="339.89" cy="319.68" r="1.9" fill="#ffffff" stroke="#176cb2" stroke-width="1.15"/>
<circle cx="340.26" cy="316.67" r="1.9" fill="#ffffff" stroke="#176cb2" stroke-width="1.15"/>
<circle cx="340.20" cy="317.25" r="1.9" fill="#ffffff" stroke="#176cb2" stroke-width="1.15"/>
<circle cx="340.84" cy="317.97" r="1.9" fill="#ffffff" stroke="#176cb2" stroke-width="1.15"/>
<circle cx="341.96" cy="317.73" r="1.9" fill="#ffffff" stroke="#176cb2" stroke-width="1.15"/>
<circle cx="341.97" cy="316.40" r="1.9" fill="#ffffff" stroke="#176cb2" stroke-width="1.15"/>
<circle cx="341.27" cy="315.33" r="1.9" fill="#ffffff" stroke="#176cb2" stroke-width="1.15"/>
<circle cx="341.91" cy="317.90" r="1.9" fill="#ffffff" stroke="#176cb2" stroke-width="1.15"/>
<circle cx="341.92" cy="317.49" r="1.9" fill="#ffffff" stroke="#176cb2" stroke-width="1.15"/>
<circle cx="342.25" cy="316.02" r="1.9" fill="#ffffff" stroke="#176cb2" stroke-width="1.15"/>
<circle cx="343.45" cy="316.62" r="1.9" fill="#ffffff" stroke="#176cb2" stroke-width="1.15"/>
<circle cx="343.14" cy="316.61" r="1.9" fill="#ffffff" stroke="#176cb2" stroke-width="1.15"/>
<circle cx="343.27" cy="315.86" r="1.9" fill="#ffffff" stroke="#176cb2" stroke-width="1.15"/>
<circle cx="344.38" cy="316.58" r="1.9" fill="#ffffff" stroke="#176cb2" stroke-width="1.15"/>
<circle cx="344.84" cy="315.20" r="1.9" fill="#ffffff" stroke="#176cb2" stroke-width="1.15"/>
<circle cx="343.79" cy="317.61" r="1.9" fill="#ffffff" stroke="#176cb2" stroke-width="1.15"/>
<circle cx="344.91" cy="316.09" r="1.9" fill="#ffffff" stroke="#176cb2" stroke-width="1.15"/>
<circle cx="345.68" cy="315.73" r="1.9" fill="#ffffff" stroke="#176cb2" stroke-width="1.15"/>
<circle cx="345.70" cy="318.71" r="1.9" fill="#ffffff" stroke="#176cb2" stroke-width="1.15"/>
<circle cx="345.95" cy="317.92" r="1.9" fill="#ffffff" stroke="#176cb2" stroke-width="1.15"/>
<circle cx="346.45" cy="316.16" r="1.9" fill="#ffffff" stroke="#176cb2" stroke-width="1.15"/>
<circle cx="346.33" cy="315.08" r="1.9" fill="#ffffff" stroke="#176cb2" stroke-width="1.15"/>
<circle cx="347.23" cy="316.30" r="1.9" fill="#ffffff" stroke="#176cb2" stroke-width="1.15"/>
<circle cx="347.35" cy="315.00" r="1.9" fill="#ffffff" stroke="#176cb2" stroke-width="1.15"/>
<circle cx="347.61" cy="315.15" r="1.9" fill="#ffffff" stroke="#176cb2" stroke-width="1.15"/>
<circle cx="347.47" cy="314.52" r="1.9" fill="#ffffff" stroke="#176cb2" stroke-width="1.15"/>
<circle cx="347.94" cy="314.61" r="1.9" fill="#ffffff" stroke="#176cb2" stroke-width="1.15"/>
<circle cx="348.18" cy="317.40" r="1.9" fill="#ffffff" stroke="#176cb2" stroke-width="1.15"/>
<circle cx="348.96" cy="316.39" r="1.9" fill="#ffffff" stroke="#176cb2" stroke-width="1.15"/>
<circle cx="349.04" cy="317.28" r="1.9" fill="#ffffff" stroke="#176cb2" stroke-width="1.15"/>
<circle cx="348.47" cy="317.15" r="1.9" fill="#ffffff" stroke="#176cb2" stroke-width="1.15"/>
<circle cx="349.32" cy="314.36" r="1.9" fill="#ffffff" stroke="#176cb2" stroke-width="1.15"/>
<circle cx="350.34" cy="316.08" r="1.9" fill="#ffffff" stroke="#176cb2" stroke-width="1.15"/>
<circle cx="350.07" cy="316.30" r="1.9" fill="#ffffff" stroke="#176cb2" stroke-width="1.15"/>
<circle cx="350.84" cy="313.51" r="1.9" fill="#ffffff" stroke="#176cb2" stroke-width="1.15"/>
<circle cx="350.66" cy="314.67" r="1.9" fill="#ffffff" stroke="#176cb2" stroke-width="1.15"/>
<circle cx="350.48" cy="315.55" r="1.9" fill="#ffffff" stroke="#176cb2" stroke-width="1.15"/>
<circle cx="351.91" cy="315.49" r="1.9" fill="#ffffff" stroke="#176cb2" stroke-width="1.15"/>
<circle cx="351.95" cy="313.00" r="1.9" fill="#ffffff" stroke="#176cb2" stroke-width="1.15"/>
<circle cx="351.46" cy="314.57" r="1.9" fill="#ffffff" stroke="#176cb2" stroke-width="1.15"/>
<circle cx="352.26" cy="313.03" r="1.9" fill="#ffffff" stroke="#176cb2" stroke-width="1.15"/>
<circle cx="351.98" cy="316.79" r="1.9" fill="#ffffff" stroke="#176cb2" stroke-width="1.15"/>
<circle cx="352.56" cy="314.96" r="1.9" fill="#ffffff" stroke="#176cb2" stroke-width="1.15"/>
<circle cx="353.29" cy="317.00" r="1.9" fill="#ffffff" stroke="#176cb2" stroke-width="1.15"/>
<circle cx="353.27" cy="313.45" r="1.9" fill="#ffffff" stroke="#176cb2" stroke-width="1.15"/>
<circle cx="353.82" cy="315.60" r="1.9" fill="#ffffff" stroke="#176cb2" stroke-width="1.15"/>
<circle cx="354.21" cy="314.96" r="1.9" fill="#ffffff" stroke="#176cb2" stroke-width="1.15"/>
<circle cx="354.11" cy="314.09" r="1.9" fill="#ffffff" stroke="#176cb2" stroke-width="1.15"/>
<circle cx="353.89" cy="316.38" r="1.9" fill="#ffffff" stroke="#176cb2" stroke-width="1.15"/>
<circle cx="355.60" cy="315.80" r="1.9" fill="#ffffff" stroke="#176cb2" stroke-width="1.15"/>
<circle cx="354.92" cy="314.96" r="1.9" fill="#ffffff" stroke="#176cb2" stroke-width="1.15"/>
<circle cx="355.62" cy="315.58" r="1.9" fill="#ffffff" stroke="#176cb2" stroke-width="1.15"/>
<circle cx="356.64" cy="314.10" r="1.9" fill="#ffffff" stroke="#176cb2" stroke-width="1.15"/>
<circle cx="355.79" cy="312.52" r="1.9" fill="#ffffff" stroke="#176cb2" stroke-width="1.15"/>
<circle cx="356.11" cy="314.77" r="1.9" fill="#ffffff" stroke="#176cb2" stroke-width="1.15"/>
<circle cx="357.25" cy="315.51" r="1.9" fill="#ffffff" stroke="#176cb2" stroke-width="1.15"/>
<circle cx="356.79" cy="314.08" r="1.9" fill="#ffffff" stroke="#176cb2" stroke-width="1.15"/>
<circle cx="356.57" cy="316.42" r="1.9" fill="#ffffff" stroke="#176cb2" stroke-width="1.15"/>
<circle cx="358.46" cy="316.26" r="1.9" fill="#ffffff" stroke="#176cb2" stroke-width="1.15"/>
<circle cx="357.93" cy="311.81" r="1.9" fill="#ffffff" stroke="#176cb2" stroke-width="1.15"/>
<circle cx="358.15" cy="312.18" r="1.9" fill="#ffffff" stroke="#176cb2" stroke-width="1.15"/>
<circle cx="359.60" cy="312.57" r="1.9" fill="#ffffff" stroke="#176cb2" stroke-width="1.15"/>
<circle cx="359.24" cy="312.78" r="1.9" fill="#ffffff" stroke="#176cb2" stroke-width="1.15"/>
<circle cx="358.98" cy="316.15" r="1.9" fill="#ffffff" stroke="#176cb2" stroke-width="1.15"/>
<circle cx="360.05" cy="313.41" r="1.9" fill="#ffffff" stroke="#176cb2" stroke-width="1.15"/>
<circle cx="360.26" cy="313.29" r="1.9" fill="#ffffff" stroke="#176cb2" stroke-width="1.15"/>
<circle cx="360.12" cy="311.78" r="1.9" fill="#ffffff" stroke="#176cb2" stroke-width="1.15"/>
<circle cx="360.79" cy="313.36" r="1.9" fill="#ffffff" stroke="#176cb2" stroke-width="1.15"/>
<circle cx="360.46" cy="312.98" r="1.9" fill="#ffffff" stroke="#176cb2" stroke-width="1.15"/>
<circle cx="360.84" cy="313.19" r="1.9" fill="#ffffff" stroke="#176cb2" stroke-width="1.15"/>
<circle cx="361.95" cy="311.40" r="1.9" fill="#ffffff" stroke="#176cb2" stroke-width="1.15"/>
<circle cx="362.34" cy="313.55" r="1.9" fill="#ffffff" stroke="#176cb2" stroke-width="1.15"/>
<circle cx="362.26" cy="314.55" r="1.9" fill="#ffffff" stroke="#176cb2" stroke-width="1.15"/>
<circle cx="362.84" cy="314.66" r="1.9" fill="#ffffff" stroke="#176cb2" stroke-width="1.15"/>
<circle cx="362.12" cy="312.38" r="1.9" fill="#ffffff" stroke="#176cb2" stroke-width="1.15"/>
<circle cx="362.15" cy="313.75" r="1.9" fill="#ffffff" stroke="#176cb2" stroke-width="1.15"/>
<circle cx="363.65" cy="313.77" r="1.9" fill="#ffffff" stroke="#176cb2" stroke-width="1.15"/>
<circle cx="364.07" cy="312.09" r="1.9" fill="#ffffff" stroke="#176cb2" stroke-width="1.15"/>
<circle cx="363.85" cy="314.43" r="1.9" fill="#ffffff" stroke="#176cb2" stroke-width="1.15"/>
<circle cx="364.65" cy="314.49" r="1.9" fill="#ffffff" stroke="#176cb2" stroke-width="1.15"/>
<circle cx="365.06" cy="311.92" r="1.9" fill="#ffffff" stroke="#176cb2" stroke-width="1.15"/>
<circle cx="364.33" cy="310.37" r="1.9" fill="#ffffff" stroke="#176cb2" stroke-width="1.15"/>
<circle cx="365.83" cy="314.71" r="1.9" fill="#ffffff" stroke="#176cb2" stroke-width="1.15"/>
<circle cx="365.37" cy="311.20" r="1.9" fill="#ffffff" stroke="#176cb2" stroke-width="1.15"/>
<circle cx="365.77" cy="311.60" r="1.9" fill="#ffffff" stroke="#176cb2" stroke-width="1.15"/>
<circle cx="365.79" cy="312.31" r="1.9" fill="#ffffff" stroke="#176cb2" stroke-width="1.15"/>
<circle cx="365.84" cy="312.48" r="1.9" fill="#ffffff" stroke="#176cb2" stroke-width="1.15"/>
<circle cx="366.36" cy="312.90" r="1.9" fill="#ffffff" stroke="#176cb2" stroke-width="1.15"/>
<circle cx="367.54" cy="310.48" r="1.9" fill="#ffffff" stroke="#176cb2" stroke-width="1.15"/>
<circle cx="367.47" cy="311.56" r="1.9" fill="#ffffff" stroke="#176cb2" stroke-width="1.15"/>
<circle cx="367.04" cy="309.73" r="1.9" fill="#ffffff" stroke="#176cb2" stroke-width="1.15"/>
<circle cx="368.08" cy="312.28" r="1.9" fill="#ffffff" stroke="#176cb2" stroke-width="1.15"/>
<circle cx="367.81" cy="313.60" r="1.9" fill="#ffffff" stroke="#176cb2" stroke-width="1.15"/>
<circle cx="368.04" cy="310.48" r="1.9" fill="#ffffff" stroke="#176cb2" stroke-width="1.15"/>
<circle cx="368.97" cy="309.75" r="1.9" fill="#ffffff" stroke="#176cb2" stroke-width="1.15"/>
<circle cx="368.78" cy="311.28" r="1.9" fill="#ffffff" stroke="#176cb2" stroke-width="1.15"/>
<circle cx="368.50" cy="312.30" r="1.9" fill="#ffffff" stroke="#176cb2" stroke-width="1.15"/>
<circle cx="369.60" cy="313.80" r="1.9" fill="#ffffff" stroke="#176cb2" stroke-width="1.15"/>
<circle cx="370.00" cy="311.69" r="1.9" fill="#ffffff" stroke="#176cb2" stroke-width="1.15"/>
<circle cx="369.64" cy="312.34" r="1.9" fill="#ffffff" stroke="#176cb2" stroke-width="1.15"/>
<circle cx="370.85" cy="311.35" r="1.9" fill="#ffffff" stroke="#176cb2" stroke-width="1.15"/>
<circle cx="370.48" cy="311.55" r="1.9" fill="#ffffff" stroke="#176cb2" stroke-width="1.15"/>
<circle cx="370.55" cy="310.76" r="1.9" fill="#ffffff" stroke="#176cb2" stroke-width="1.15"/>
<circle cx="371.29" cy="311.12" r="1.9" fill="#ffffff" stroke="#176cb2" stroke-width="1.15"/>
<circle cx="371.83" cy="309.15" r="1.9" fill="#ffffff" stroke="#176cb2" stroke-width="1.15"/>
<circle cx="371.33" cy="312.28" r="1.9" fill="#ffffff" stroke="#176cb2" stroke-width="1.15"/>
<circle cx="372.69" cy="310.54" r="1.9" fill="#ffffff" stroke="#176cb2" stroke-width="1.15"/>
<circle cx="373.40" cy="310.84" r="1.9" fill="#ffffff" stroke="#176cb2" stroke-width="1.15"/>
<circle cx="372.46" cy="312.17" r="1.9" fill="#ffffff" stroke="#176cb2" stroke-width="1.15"/>
<circle cx="373.31" cy="311.56" r="1.9" fill="#ffffff" stroke="#176cb2" stroke-width="1.15"/>
<circle cx="373.89" cy="310.13" r="1.9" fill="#ffffff" stroke="#176cb2" stroke-width="1.15"/>
<circle cx="373.17" cy="311.29" r="1.9" fill="#ffffff" stroke="#176cb2" stroke-width="1.15"/>
<circle cx="374.94" cy="309.92" r="1.9" fill="#ffffff" stroke="#176cb2" stroke-width="1.15"/>
<circle cx="374.61" cy="312.85" r="1.9" fill="#ffffff" stroke="#176cb2" stroke-width="1.15"/>
<circle cx="375.20" cy="309.92" r="1.9" fill="#ffffff" stroke="#176cb2" stroke-width="1.15"/>
<circle cx="375.28" cy="311.26" r="1.9" fill="#ffffff" stroke="#176cb2" stroke-width="1.15"/>
<circle cx="375.97" cy="309.19" r="1.9" fill="#ffffff" stroke="#176cb2" stroke-width="1.15"/>
<circle cx="375.06" cy="309.34" r="1.9" fill="#ffffff" stroke="#176cb2" stroke-width="1.15"/>
<circle cx="376.72" cy="311.81" r="1.9" fill="#ffffff" stroke="#176cb2" stroke-width="1.15"/>
<circle cx="375.87" cy="309.75" r="1.9" fill="#ffffff" stroke="#176cb2" stroke-width="1.15"/>
<circle cx="375.90" cy="310.84" r="1.9" fill="#ffffff" stroke="#176cb2" stroke-width="1.15"/>
<circle cx="376.83" cy="310.38" r="1.9" fill="#ffffff" stroke="#176cb2" stroke-width="1.15"/>
<circle cx="376.85" cy="308.17" r="1.9" fill="#ffffff" stroke="#176cb2" stroke-width="1.15"/>
<circle cx="377.04" cy="307.34" r="1.9" fill="#ffffff" stroke="#176cb2" stroke-width="1.15"/>
<circle cx="378.93" cy="306.89" r="1.9" fill="#ffffff" stroke="#176cb2" stroke-width="1.15"/>
<circle cx="378.86" cy="309.84" r="1.9" fill="#ffffff" stroke="#176cb2" stroke-width="1.15"/>
<circle cx="378.89" cy="310.66" r="1.9" fill="#ffffff" stroke="#176cb2" stroke-width="1.15"/>
<circle cx="379.39" cy="309.62" r="1.9" fill="#ffffff" stroke="#176cb2" stroke-width="1.15"/>
<circle cx="379.82" cy="310.28" r="1.9" fill="#ffffff" stroke="#176cb2" stroke-width="1.15"/>
<circle cx="379.70" cy="309.92" r="1.9" fill="#ffffff" stroke="#176cb2" stroke-width="1.15"/>
<circle cx="379.69" cy="308.29" r="1.9" fill="#ffffff" stroke="#176cb2" stroke-width="1.15"/>
<circle cx="380.40" cy="309.96" r="1.9" fill="#ffffff" stroke="#176cb2" stroke-width="1.15"/>
<circle cx="380.72" cy="310.15" r="1.9" fill="#ffffff" stroke="#176cb2" stroke-width="1.15"/>
<circle cx="381.39" cy="311.03" r="1.9" fill="#ffffff" stroke="#176cb2" stroke-width="1.15"/>
<circle cx="381.52" cy="305.78" r="1.9" fill="#ffffff" stroke="#176cb2" stroke-width="1.15"/>
<circle cx="380.93" cy="307.94" r="1.9" fill="#ffffff" stroke="#176cb2" stroke-width="1.15"/>
<circle cx="381.91" cy="309.13" r="1.9" fill="#ffffff" stroke="#176cb2" stroke-width="1.15"/>
<circle cx="381.99" cy="311.29" r="1.9" fill="#ffffff" stroke="#176cb2" stroke-width="1.15"/>
<circle cx="381.73" cy="309.96" r="1.9" fill="#ffffff" stroke="#176cb2" stroke-width="1.15"/>
<circle cx="383.07" cy="310.59" r="1.9" fill="#ffffff" stroke="#176cb2" stroke-width="1.15"/>
<circle cx="383.20" cy="307.24" r="1.9" fill="#ffffff" stroke="#176cb2" stroke-width="1.15"/>
<circle cx="382.50" cy="309.77" r="1.9" fill="#ffffff" stroke="#176cb2" stroke-width="1.15"/>
<circle cx="384.12" cy="309.94" r="1.9" fill="#ffffff" stroke="#176cb2" stroke-width="1.15"/>
<circle cx="384.18" cy="308.54" r="1.9" fill="#ffffff" stroke="#176cb2" stroke-width="1.15"/>
<circle cx="384.08" cy="309.21" r="1.9" fill="#ffffff" stroke="#176cb2" stroke-width="1.15"/>
<circle cx="385.21" cy="308.69" r="1.9" fill="#ffffff" stroke="#176cb2" stroke-width="1.15"/>
<circle cx="384.96" cy="310.28" r="1.9" fill="#ffffff" stroke="#176cb2" stroke-width="1.15"/>
<circle cx="384.72" cy="306.12" r="1.9" fill="#ffffff" stroke="#176cb2" stroke-width="1.15"/>
<circle cx="386.20" cy="307.71" r="1.9" fill="#ffffff" stroke="#176cb2" stroke-width="1.15"/>
<circle cx="385.54" cy="306.68" r="1.9" fill="#ffffff" stroke="#176cb2" stroke-width="1.15"/>
<circle cx="385.16" cy="305.12" r="1.9" fill="#ffffff" stroke="#176cb2" stroke-width="1.15"/>
<circle cx="386.13" cy="310.05" r="1.9" fill="#ffffff" stroke="#176cb2" stroke-width="1.15"/>
<circle cx="386.71" cy="308.20" r="1.9" fill="#ffffff" stroke="#176cb2" stroke-width="1.15"/>
<circle cx="386.81" cy="308.10" r="1.9" fill="#ffffff" stroke="#176cb2" stroke-width="1.15"/>
<circle cx="387.22" cy="308.44" r="1.9" fill="#ffffff" stroke="#176cb2" stroke-width="1.15"/>
<circle cx="387.72" cy="307.77" r="1.9" fill="#ffffff" stroke="#176cb2" stroke-width="1.15"/>
<circle cx="387.65" cy="308.60" r="1.9" fill="#ffffff" stroke="#176cb2" stroke-width="1.15"/>
<circle cx="389.05" cy="307.29" r="1.9" fill="#ffffff" stroke="#176cb2" stroke-width="1.15"/>
<circle cx="388.11" cy="305.99" r="1.9" fill="#ffffff" stroke="#176cb2" stroke-width="1.15"/>
<circle cx="388.82" cy="306.67" r="1.9" fill="#ffffff" stroke="#176cb2" stroke-width="1.15"/>
<circle cx="389.52" cy="307.55" r="1.9" fill="#ffffff" stroke="#176cb2" stroke-width="1.15"/>
<circle cx="388.99" cy="305.43" r="1.9" fill="#ffffff" stroke="#176cb2" stroke-width="1.15"/>
<circle cx="388.98" cy="309.68" r="1.9" fill="#ffffff" stroke="#176cb2" stroke-width="1.15"/>
<circle cx="389.82" cy="308.37" r="1.9" fill="#ffffff" stroke="#176cb2" stroke-width="1.15"/>
<circle cx="389.71" cy="308.04" r="1.9" fill="#ffffff" stroke="#176cb2" stroke-width="1.15"/>
<circle cx="390.80" cy="306.61" r="1.9" fill="#ffffff" stroke="#176cb2" stroke-width="1.15"/>
<circle cx="390.71" cy="305.80" r="1.9" fill="#ffffff" stroke="#176cb2" stroke-width="1.15"/>
<circle cx="391.64" cy="306.86" r="1.9" fill="#ffffff" stroke="#176cb2" stroke-width="1.15"/>
<circle cx="391.37" cy="305.08" r="1.9" fill="#ffffff" stroke="#176cb2" stroke-width="1.15"/>
<circle cx="392.61" cy="304.41" r="1.9" fill="#ffffff" stroke="#176cb2" stroke-width="1.15"/>
<circle cx="391.95" cy="305.25" r="1.9" fill="#ffffff" stroke="#176cb2" stroke-width="1.15"/>
<circle cx="391.66" cy="305.63" r="1.9" fill="#ffffff" stroke="#176cb2" stroke-width="1.15"/>
<circle cx="393.49" cy="303.89" r="1.9" fill="#ffffff" stroke="#176cb2" stroke-width="1.15"/>
<circle cx="392.70" cy="304.83" r="1.9" fill="#ffffff" stroke="#176cb2" stroke-width="1.15"/>
<circle cx="393.12" cy="303.91" r="1.9" fill="#ffffff" stroke="#176cb2" stroke-width="1.15"/>
<circle cx="393.46" cy="306.76" r="1.9" fill="#ffffff" stroke="#176cb2" stroke-width="1.15"/>
<circle cx="393.79" cy="305.55" r="1.9" fill="#ffffff" stroke="#176cb2" stroke-width="1.15"/>
<circle cx="394.05" cy="306.13" r="1.9" fill="#ffffff" stroke="#176cb2" stroke-width="1.15"/>
<circle cx="395.20" cy="303.86" r="1.9" fill="#ffffff" stroke="#176cb2" stroke-width="1.15"/>
<circle cx="395.04" cy="306.87" r="1.9" fill="#ffffff" stroke="#176cb2" stroke-width="1.15"/>
<circle cx="394.55" cy="302.99" r="1.9" fill="#ffffff" stroke="#176cb2" stroke-width="1.15"/>
<circle cx="395.62" cy="309.78" r="1.9" fill="#ffffff" stroke="#176cb2" stroke-width="1.15"/>
<circle cx="395.74" cy="306.61" r="1.9" fill="#ffffff" stroke="#176cb2" stroke-width="1.15"/>
<circle cx="395.41" cy="306.30" r="1.9" fill="#ffffff" stroke="#176cb2" stroke-width="1.15"/>
<circle cx="397.29" cy="304.86" r="1.9" fill="#ffffff" stroke="#176cb2" stroke-width="1.15"/>
<circle cx="397.36" cy="302.21" r="1.9" fill="#ffffff" stroke="#176cb2" stroke-width="1.15"/>
<circle cx="396.89" cy="307.14" r="1.9" fill="#ffffff" stroke="#176cb2" stroke-width="1.15"/>
<circle cx="397.57" cy="304.46" r="1.9" fill="#ffffff" stroke="#176cb2" stroke-width="1.15"/>
<circle cx="398.23" cy="308.20" r="1.9" fill="#ffffff" stroke="#176cb2" stroke-width="1.15"/>
<circle cx="397.65" cy="303.09" r="1.9" fill="#ffffff" stroke="#176cb2" stroke-width="1.15"/>
<circle cx="398.93" cy="300.51" r="1.9" fill="#ffffff" stroke="#176cb2" stroke-width="1.15"/>
<circle cx="399.12" cy="307.83" r="1.9" fill="#ffffff" stroke="#176cb2" stroke-width="1.15"/>
<circle cx="398.33" cy="305.99" r="1.9" fill="#ffffff" stroke="#176cb2" stroke-width="1.15"/>
<circle cx="399.00" cy="304.53" r="1.9" fill="#ffffff" stroke="#176cb2" stroke-width="1.15"/>
<circle cx="399.79" cy="304.23" r="1.9" fill="#ffffff" stroke="#176cb2" stroke-width="1.15"/>
<circle cx="399.69" cy="306.57" r="1.9" fill="#ffffff" stroke="#176cb2" stroke-width="1.15"/>
<circle cx="399.86" cy="304.69" r="1.9" fill="#ffffff" stroke="#176cb2" stroke-width="1.15"/>
<circle cx="400.35" cy="303.36" r="1.9" fill="#ffffff" stroke="#176cb2" stroke-width="1.15"/>
<circle cx="400.24" cy="304.51" r="1.9" fill="#ffffff" stroke="#176cb2" stroke-width="1.15"/>
<circle cx="401.09" cy="301.86" r="1.9" fill="#ffffff" stroke="#176cb2" stroke-width="1.15"/>
<circle cx="400.86" cy="304.00" r="1.9" fill="#ffffff" stroke="#176cb2" stroke-width="1.15"/>
<circle cx="400.82" cy="306.03" r="1.9" fill="#ffffff" stroke="#176cb2" stroke-width="1.15"/>
<circle cx="401.84" cy="304.46" r="1.9" fill="#ffffff" stroke="#176cb2" stroke-width="1.15"/>
<circle cx="402.87" cy="301.59" r="1.9" fill="#ffffff" stroke="#176cb2" stroke-width="1.15"/>
<circle cx="402.88" cy="305.09" r="1.9" fill="#ffffff" stroke="#176cb2" stroke-width="1.15"/>
<circle cx="402.77" cy="302.98" r="1.9" fill="#ffffff" stroke="#176cb2" stroke-width="1.15"/>
<circle cx="402.96" cy="302.13" r="1.9" fill="#ffffff" stroke="#176cb2" stroke-width="1.15"/>
<circle cx="403.25" cy="304.37" r="1.9" fill="#ffffff" stroke="#176cb2" stroke-width="1.15"/>
<circle cx="403.94" cy="304.54" r="1.9" fill="#ffffff" stroke="#176cb2" stroke-width="1.15"/>
<circle cx="404.07" cy="302.70" r="1.9" fill="#ffffff" stroke="#176cb2" stroke-width="1.15"/>
<circle cx="404.60" cy="304.07" r="1.9" fill="#ffffff" stroke="#176cb2" stroke-width="1.15"/>
<circle cx="404.71" cy="302.34" r="1.9" fill="#ffffff" stroke="#176cb2" stroke-width="1.15"/>
<circle cx="405.42" cy="304.25" r="1.9" fill="#ffffff" stroke="#176cb2" stroke-width="1.15"/>
<circle cx="405.07" cy="303.55" r="1.9" fill="#ffffff" stroke="#176cb2" stroke-width="1.15"/>
<circle cx="406.00" cy="303.53" r="1.9" fill="#ffffff" stroke="#176cb2" stroke-width="1.15"/>
<circle cx="405.58" cy="303.81" r="1.9" fill="#ffffff" stroke="#176cb2" stroke-width="1.15"/>
<circle cx="406.30" cy="298.89" r="1.9" fill="#ffffff" stroke="#176cb2" stroke-width="1.15"/>
<circle cx="407.24" cy="303.92" r="1.9" fill="#ffffff" stroke="#176cb2" stroke-width="1.15"/>
<circle cx="407.48" cy="303.91" r="1.9" fill="#ffffff" stroke="#176cb2" stroke-width="1.15"/>
<circle cx="406.27" cy="303.43" r="1.9" fill="#ffffff" stroke="#176cb2" stroke-width="1.15"/>
<circle cx="407.71" cy="302.59" r="1.9" fill="#ffffff" stroke="#176cb2" stroke-width="1.15"/>
<circle cx="407.86" cy="303.27" r="1.9" fill="#ffffff" stroke="#176cb2" stroke-width="1.15"/>
<circle cx="407.29" cy="302.51" r="1.9" fill="#ffffff" stroke="#176cb2" stroke-width="1.15"/>
<circle cx="409.10" cy="303.65" r="1.9" fill="#ffffff" stroke="#176cb2" stroke-width="1.15"/>
<circle cx="408.62" cy="302.62" r="1.9" fill="#ffffff" stroke="#176cb2" stroke-width="1.15"/>
<circle cx="408.63" cy="303.12" r="1.9" fill="#ffffff" stroke="#176cb2" stroke-width="1.15"/>
<circle cx="409.80" cy="300.76" r="1.9" fill="#ffffff" stroke="#176cb2" stroke-width="1.15"/>
<circle cx="410.03" cy="299.15" r="1.9" fill="#ffffff" stroke="#176cb2" stroke-width="1.15"/>
<circle cx="409.32" cy="304.25" r="1.9" fill="#ffffff" stroke="#176cb2" stroke-width="1.15"/>
<circle cx="410.92" cy="304.13" r="1.9" fill="#ffffff" stroke="#176cb2" stroke-width="1.15"/>
<circle cx="410.57" cy="303.17" r="1.9" fill="#ffffff" stroke="#176cb2" stroke-width="1.15"/>
<circle cx="410.28" cy="300.47" r="1.9" fill="#ffffff" stroke="#176cb2" stroke-width="1.15"/>
<circle cx="411.06" cy="304.35" r="1.9" fill="#ffffff" stroke="#176cb2" stroke-width="1.15"/>
<circle cx="411.98" cy="302.08" r="1.9" fill="#ffffff" stroke="#176cb2" stroke-width="1.15"/>
<circle cx="411.99" cy="299.49" r="1.9" fill="#ffffff" stroke="#176cb2" stroke-width="1.15"/>
<circle cx="412.94" cy="302.08" r="1.9" fill="#ffffff" stroke="#176cb2" stroke-width="1.15"/>
<circle cx="412.80" cy="300.29" r="1.9" fill="#ffffff" stroke="#176cb2" stroke-width="1.15"/>
<circle cx="412.42" cy="300.72" r="1.9" fill="#ffffff" stroke="#176cb2" stroke-width="1.15"/>
<circle cx="412.91" cy="302.61" r="1.9" fill="#ffffff" stroke="#176cb2" stroke-width="1.15"/>
<circle cx="413.94" cy="303.61" r="1.9" fill="#ffffff" stroke="#176cb2" stroke-width="1.15"/>
<circle cx="413.38" cy="300.22" r="1.9" fill="#ffffff" stroke="#176cb2" stroke-width="1.15"/>
<circle cx="414.19" cy="302.12" r="1.9" fill="#ffffff" stroke="#176cb2" stroke-width="1.15"/>
<circle cx="414.62" cy="297.24" r="1.9" fill="#ffffff" stroke="#176cb2" stroke-width="1.15"/>
<circle cx="413.81" cy="302.59" r="1.9" fill="#ffffff" stroke="#176cb2" stroke-width="1.15"/>
<circle cx="414.93" cy="299.45" r="1.9" fill="#ffffff" stroke="#176cb2" stroke-width="1.15"/>
<circle cx="415.60" cy="300.71" r="1.9" fill="#ffffff" stroke="#176cb2" stroke-width="1.15"/>
<circle cx="415.57" cy="303.00" r="1.9" fill="#ffffff" stroke="#176cb2" stroke-width="1.15"/>
<circle cx="415.49" cy="300.03" r="1.9" fill="#ffffff" stroke="#176cb2" stroke-width="1.15"/>
<circle cx="416.18" cy="299.00" r="1.9" fill="#ffffff" stroke="#176cb2" stroke-width="1.15"/>
<circle cx="415.81" cy="300.31" r="1.9" fill="#ffffff" stroke="#176cb2" stroke-width="1.15"/>
<circle cx="417.27" cy="301.18" r="1.9" fill="#ffffff" stroke="#176cb2" stroke-width="1.15"/>
<circle cx="417.22" cy="300.14" r="1.9" fill="#ffffff" stroke="#176cb2" stroke-width="1.15"/>
<circle cx="416.84" cy="297.16" r="1.9" fill="#ffffff" stroke="#176cb2" stroke-width="1.15"/>
<circle cx="418.50" cy="299.90" r="1.9" fill="#ffffff" stroke="#176cb2" stroke-width="1.15"/>
<circle cx="418.11" cy="301.58" r="1.9" fill="#ffffff" stroke="#176cb2" stroke-width="1.15"/>
<circle cx="417.53" cy="303.96" r="1.9" fill="#ffffff" stroke="#176cb2" stroke-width="1.15"/>
<circle cx="418.70" cy="300.86" r="1.9" fill="#ffffff" stroke="#176cb2" stroke-width="1.15"/>
<circle cx="418.56" cy="298.94" r="1.9" fill="#ffffff" stroke="#176cb2" stroke-width="1.15"/>
<circle cx="419.41" cy="301.36" r="1.9" fill="#ffffff" stroke="#176cb2" stroke-width="1.15"/>
<circle cx="419.63" cy="299.45" r="1.9" fill="#ffffff" stroke="#176cb2" stroke-width="1.15"/>
<circle cx="419.49" cy="300.83" r="1.9" fill="#ffffff" stroke="#176cb2" stroke-width="1.15"/>
<circle cx="420.37" cy="300.69" r="1.9" fill="#ffffff" stroke="#176cb2" stroke-width="1.15"/>
<circle cx="420.16" cy="299.95" r="1.9" fill="#ffffff" stroke="#176cb2" stroke-width="1.15"/>
<circle cx="420.16" cy="300.91" r="1.9" fill="#ffffff" stroke="#176cb2" stroke-width="1.15"/>
<circle cx="420.72" cy="299.53" r="1.9" fill="#ffffff" stroke="#176cb2" stroke-width="1.15"/>
<circle cx="421.77" cy="296.23" r="1.9" fill="#ffffff" stroke="#176cb2" stroke-width="1.15"/>
<circle cx="422.01" cy="300.71" r="1.9" fill="#ffffff" stroke="#176cb2" stroke-width="1.15"/>
<circle cx="422.19" cy="299.35" r="1.9" fill="#ffffff" stroke="#176cb2" stroke-width="1.15"/>
<circle cx="421.99" cy="299.14" r="1.9" fill="#ffffff" stroke="#176cb2" stroke-width="1.15"/>
<circle cx="422.24" cy="301.20" r="1.9" fill="#ffffff" stroke="#176cb2" stroke-width="1.15"/>
<circle cx="422.59" cy="300.38" r="1.9" fill="#ffffff" stroke="#176cb2" stroke-width="1.15"/>
<circle cx="424.02" cy="299.20" r="1.9" fill="#ffffff" stroke="#176cb2" stroke-width="1.15"/>
<circle cx="423.00" cy="299.97" r="1.9" fill="#ffffff" stroke="#176cb2" stroke-width="1.15"/>
<circle cx="424.07" cy="298.24" r="1.9" fill="#ffffff" stroke="#176cb2" stroke-width="1.15"/>
<circle cx="424.59" cy="298.14" r="1.9" fill="#ffffff" stroke="#176cb2" stroke-width="1.15"/>
<circle cx="423.81" cy="298.15" r="1.9" fill="#ffffff" stroke="#176cb2" stroke-width="1.15"/>
<circle cx="424.70" cy="299.16" r="1.9" fill="#ffffff" stroke="#176cb2" stroke-width="1.15"/>
<circle cx="425.70" cy="299.40" r="1.9" fill="#ffffff" stroke="#176cb2" stroke-width="1.15"/>
<circle cx="425.76" cy="302.50" r="1.9" fill="#ffffff" stroke="#176cb2" stroke-width="1.15"/>
<circle cx="425.33" cy="299.81" r="1.9" fill="#ffffff" stroke="#176cb2" stroke-width="1.15"/>
<circle cx="426.06" cy="299.64" r="1.9" fill="#ffffff" stroke="#176cb2" stroke-width="1.15"/>
<circle cx="426.82" cy="299.18" r="1.9" fill="#ffffff" stroke="#176cb2" stroke-width="1.15"/>
<circle cx="425.94" cy="299.00" r="1.9" fill="#ffffff" stroke="#176cb2" stroke-width="1.15"/>
<circle cx="426.66" cy="298.87" r="1.9" fill="#ffffff" stroke="#176cb2" stroke-width="1.15"/>
<circle cx="426.95" cy="298.68" r="1.9" fill="#ffffff" stroke="#176cb2" stroke-width="1.15"/>
<circle cx="426.75" cy="297.81" r="1.9" fill="#ffffff" stroke="#176cb2" stroke-width="1.15"/>
<circle cx="428.60" cy="302.44" r="1.9" fill="#ffffff" stroke="#176cb2" stroke-width="1.15"/>
<circle cx="427.73" cy="297.81" r="1.9" fill="#ffffff" stroke="#176cb2" stroke-width="1.15"/>
<circle cx="427.87" cy="299.73" r="1.9" fill="#ffffff" stroke="#176cb2" stroke-width="1.15"/>
<circle cx="429.23" cy="296.92" r="1.9" fill="#ffffff" stroke="#176cb2" stroke-width="1.15"/>
<circle cx="428.74" cy="299.20" r="1.9" fill="#ffffff" stroke="#176cb2" stroke-width="1.15"/>
<circle cx="429.29" cy="297.71" r="1.9" fill="#ffffff" stroke="#176cb2" stroke-width="1.15"/>
<circle cx="430.25" cy="295.51" r="1.9" fill="#ffffff" stroke="#176cb2" stroke-width="1.15"/>
<circle cx="429.94" cy="296.53" r="1.9" fill="#ffffff" stroke="#176cb2" stroke-width="1.15"/>
<circle cx="429.82" cy="294.20" r="1.9" fill="#ffffff" stroke="#176cb2" stroke-width="1.15"/>
<circle cx="430.44" cy="296.51" r="1.9" fill="#ffffff" stroke="#176cb2" stroke-width="1.15"/>
<circle cx="430.93" cy="300.12" r="1.9" fill="#ffffff" stroke="#176cb2" stroke-width="1.15"/>
<circle cx="430.41" cy="295.85" r="1.9" fill="#ffffff" stroke="#176cb2" stroke-width="1.15"/>
<circle cx="432.32" cy="297.28" r="1.9" fill="#ffffff" stroke="#176cb2" stroke-width="1.15"/>
<circle cx="431.44" cy="296.06" r="1.9" fill="#ffffff" stroke="#176cb2" stroke-width="1.15"/>
<circle cx="431.36" cy="301.46" r="1.9" fill="#ffffff" stroke="#176cb2" stroke-width="1.15"/>
<circle cx="432.54" cy="298.22" r="1.9" fill="#ffffff" stroke="#176cb2" stroke-width="1.15"/>
<circle cx="433.12" cy="296.73" r="1.9" fill="#ffffff" stroke="#176cb2" stroke-width="1.15"/>
<circle cx="433.12" cy="296.70" r="1.9" fill="#ffffff" stroke="#176cb2" stroke-width="1.15"/>
<circle cx="433.95" cy="298.93" r="1.9" fill="#ffffff" stroke="#176cb2" stroke-width="1.15"/>
<circle cx="433.61" cy="296.24" r="1.9" fill="#ffffff" stroke="#176cb2" stroke-width="1.15"/>
<circle cx="433.91" cy="298.11" r="1.9" fill="#ffffff" stroke="#176cb2" stroke-width="1.15"/>
<circle cx="434.42" cy="297.36" r="1.9" fill="#ffffff" stroke="#176cb2" stroke-width="1.15"/>
<circle cx="434.05" cy="295.03" r="1.9" fill="#ffffff" stroke="#176cb2" stroke-width="1.15"/>
<circle cx="434.51" cy="295.24" r="1.9" fill="#ffffff" stroke="#176cb2" stroke-width="1.15"/>
<circle cx="435.26" cy="295.27" r="1.9" fill="#ffffff" stroke="#176cb2" stroke-width="1.15"/>
<circle cx="435.55" cy="297.37" r="1.9" fill="#ffffff" stroke="#176cb2" stroke-width="1.15"/>
<circle cx="436.02" cy="298.95" r="1.9" fill="#ffffff" stroke="#176cb2" stroke-width="1.15"/>
<circle cx="436.76" cy="294.20" r="1.9" fill="#ffffff" stroke="#176cb2" stroke-width="1.15"/>
<circle cx="436.07" cy="297.11" r="1.9" fill="#ffffff" stroke="#176cb2" stroke-width="1.15"/>
<circle cx="435.87" cy="295.59" r="1.9" fill="#ffffff" stroke="#176cb2" stroke-width="1.15"/>
<circle cx="437.26" cy="295.25" r="1.9" fill="#ffffff" stroke="#176cb2" stroke-width="1.15"/>
<circle cx="437.44" cy="293.79" r="1.9" fill="#ffffff" stroke="#176cb2" stroke-width="1.15"/>
<circle cx="436.99" cy="297.38" r="1.9" fill="#ffffff" stroke="#176cb2" stroke-width="1.15"/>
<circle cx="438.15" cy="294.79" r="1.9" fill="#ffffff" stroke="#176cb2" stroke-width="1.15"/>
<circle cx="438.22" cy="298.82" r="1.9" fill="#ffffff" stroke="#176cb2" stroke-width="1.15"/>
<circle cx="438.22" cy="291.53" r="1.9" fill="#ffffff" stroke="#176cb2" stroke-width="1.15"/>
<circle cx="439.03" cy="294.47" r="1.9" fill="#ffffff" stroke="#176cb2" stroke-width="1.15"/>
<circle cx="439.01" cy="294.51" r="1.9" fill="#ffffff" stroke="#176cb2" stroke-width="1.15"/>
<circle cx="439.54" cy="294.93" r="1.9" fill="#ffffff" stroke="#176cb2" stroke-width="1.15"/>
<circle cx="440.47" cy="293.97" r="1.9" fill="#ffffff" stroke="#176cb2" stroke-width="1.15"/>
<circle cx="439.88" cy="296.41" r="1.9" fill="#ffffff" stroke="#176cb2" stroke-width="1.15"/>
<circle cx="439.66" cy="294.59" r="1.9" fill="#ffffff" stroke="#176cb2" stroke-width="1.15"/>
<circle cx="441.00" cy="295.84" r="1.9" fill="#ffffff" stroke="#176cb2" stroke-width="1.15"/>
<circle cx="441.40" cy="293.07" r="1.9" fill="#ffffff" stroke="#176cb2" stroke-width="1.15"/>
<circle cx="441.21" cy="293.41" r="1.9" fill="#ffffff" stroke="#176cb2" stroke-width="1.15"/>
<circle cx="441.87" cy="295.35" r="1.9" fill="#ffffff" stroke="#176cb2" stroke-width="1.15"/>
<circle cx="441.74" cy="292.44" r="1.9" fill="#ffffff" stroke="#176cb2" stroke-width="1.15"/>
<circle cx="442.33" cy="295.93" r="1.9" fill="#ffffff" stroke="#176cb2" stroke-width="1.15"/>
<circle cx="442.89" cy="294.69" r="1.9" fill="#ffffff" stroke="#176cb2" stroke-width="1.15"/>
<circle cx="442.62" cy="295.00" r="1.9" fill="#ffffff" stroke="#176cb2" stroke-width="1.15"/>
<circle cx="442.93" cy="294.39" r="1.9" fill="#ffffff" stroke="#176cb2" stroke-width="1.15"/>
<circle cx="443.48" cy="294.34" r="1.9" fill="#ffffff" stroke="#176cb2" stroke-width="1.15"/>
<circle cx="443.43" cy="295.97" r="1.9" fill="#ffffff" stroke="#176cb2" stroke-width="1.15"/>
<circle cx="444.23" cy="293.98" r="1.9" fill="#ffffff" stroke="#176cb2" stroke-width="1.15"/>
<circle cx="444.67" cy="293.19" r="1.9" fill="#ffffff" stroke="#176cb2" stroke-width="1.15"/>
<circle cx="445.05" cy="289.99" r="1.9" fill="#ffffff" stroke="#176cb2" stroke-width="1.15"/>
<circle cx="445.14" cy="290.79" r="1.9" fill="#ffffff" stroke="#176cb2" stroke-width="1.15"/>
<circle cx="445.07" cy="294.32" r="1.9" fill="#ffffff" stroke="#176cb2" stroke-width="1.15"/>
<circle cx="446.02" cy="291.61" r="1.9" fill="#ffffff" stroke="#176cb2" stroke-width="1.15"/>
<circle cx="446.04" cy="294.50" r="1.9" fill="#ffffff" stroke="#176cb2" stroke-width="1.15"/>
<circle cx="446.20" cy="294.28" r="1.9" fill="#ffffff" stroke="#176cb2" stroke-width="1.15"/>
<circle cx="446.59" cy="296.05" r="1.9" fill="#ffffff" stroke="#176cb2" stroke-width="1.15"/>
<circle cx="445.95" cy="294.76" r="1.9" fill="#ffffff" stroke="#176cb2" stroke-width="1.15"/>
<path d="M278.90 327.71 C280.29 327.51 284.48 326.92 287.27 326.51 C290.06 326.11 292.85 325.69 295.64 325.27 C298.43 324.84 301.22 324.41 304.01 323.96 C306.80 323.52 309.59 323.07 312.38 322.60 C315.17 322.14 317.96 321.67 320.75 321.19 C323.54 320.71 326.33 320.22 329.12 319.72 C331.91 319.22 334.70 318.72 337.49 318.20 C340.28 317.68 343.07 317.16 345.86 316.62 C348.65 316.09 351.44 315.54 354.23 314.99 C357.02 314.44 359.81 313.87 362.60 313.30 C365.39 312.73 368.18 312.15 370.97 311.56 C373.76 310.97 376.55 310.37 379.34 309.76 C382.13 309.16 384.92 308.54 387.71 307.91 C390.50 307.29 393.29 306.65 396.08 306.01 C398.87 305.36 401.66 304.71 404.45 304.04 C407.24 303.38 410.03 302.71 412.82 302.03 C415.61 301.35 418.40 300.66 421.19 299.96 C423.98 299.26 426.77 298.55 429.56 297.83 C432.35 297.11 435.14 296.38 437.93 295.65 C440.72 294.91 444.91 293.79 446.30 293.41" stroke="#d01e26" stroke-width="1.35" fill="none" stroke-linejoin="round"/>
</g>
<defs><clipPath id="clipe"><rect x="278.9" y="199.5" width="167.40" height="134.00"/></clipPath></defs>
<rect x="278.90" y="199.50" width="167.40" height="134.00" fill="none" stroke="#231f20" stroke-width="1.0"/>
<path d="M299.82 333.50v-2.5M299.82 199.50v2.5M320.75 333.50v-2.5M320.75 199.50v2.5M341.68 333.50v-2.5M341.68 199.50v2.5M362.60 333.50v-2.5M362.60 199.50v2.5M383.52 333.50v-2.5M383.52 199.50v2.5M404.45 333.50v-2.5M404.45 199.50v2.5M425.38 333.50v-2.5M425.38 199.50v2.5" stroke="#231f20" stroke-width="0.8" fill="none"/>
<path d="M278.90 331.40h2.5M446.30 331.40h-2.5M278.90 305.02h2.5M446.30 305.02h-2.5M278.90 278.64h2.5M446.30 278.64h-2.5M278.90 252.26h2.5M446.30 252.26h-2.5M278.90 225.88h2.5M446.30 225.88h-2.5" stroke="#231f20" stroke-width="0.8" fill="none"/>
<text x="299.82" y="347.50" font-size="10" text-anchor="middle" fill="#231f20">1260</text>
<text x="341.68" y="347.50" font-size="10" text-anchor="middle" fill="#231f20">1270</text>
<text x="383.52" y="347.50" font-size="10" text-anchor="middle" fill="#231f20">1280</text>
<text x="425.38" y="347.50" font-size="10" text-anchor="middle" fill="#231f20">1290</text>
<text x="273.30" y="335.00" font-size="10" text-anchor="end" fill="#231f20">0</text>
<text x="273.30" y="308.62" font-size="10" text-anchor="end" fill="#231f20">1</text>
<text x="273.30" y="282.24" font-size="10" text-anchor="end" fill="#231f20">2</text>
<text x="273.30" y="255.86" font-size="10" text-anchor="end" fill="#231f20">3</text>
<text x="273.30" y="229.48" font-size="10" text-anchor="end" fill="#231f20">4</text>
<text x="273.30" y="203.10" font-size="10" text-anchor="end" fill="#231f20">5</text>
<text x="363.10" y="361.30" font-size="10.6" text-anchor="middle" fill="#231f20">Wavelength (nm)</text>
<text x="258.50" y="255.80" font-size="10.6" text-anchor="middle" fill="#231f20" transform="rotate(-90 258.50 255.80)">α<tspan font-size="7.5" dy="2.5">H</tspan><tspan dy="-2.5"> - factor</tspan></text>
<text x="248.20" y="202.50" font-size="14.5" text-anchor="start" fill="#000" font-weight="bold">e</text>
<rect x="305.7" y="209.6" width="122.30" height="63.40" fill="#fff"/>
<defs><clipPath id="clipei"><rect x="305.7" y="209.6" width="122.30" height="63.40"/></clipPath></defs>
<g clip-path="url(#clipei)">
<path d="M304.70 267.21 L306.30 267.10 L307.90 266.65 L309.50 265.45 L311.10 264.50 L312.70 264.28 L314.30 263.80 L315.90 263.36 L317.50 261.88 L319.10 261.20 L320.70 261.24 L322.30 260.50 L323.90 260.22 L325.50 259.37 L327.10 258.34 L328.70 257.64 L330.30 257.99 L331.90 256.35 L333.50 255.53 L335.10 254.78 L336.70 254.58 L338.30 253.97 L339.90 253.18 L341.50 252.67 L343.10 252.18 L344.70 251.73 L346.30 251.29 L347.90 250.40 L349.50 249.13 L351.10 249.45 L352.70 248.17 L354.30 248.09 L355.90 247.14 L357.50 247.18 L359.10 246.47 L360.70 246.40 L362.30 247.11 L363.90 245.61 L365.50 245.63 L367.10 244.65 L368.70 244.84 L370.30 245.07 L371.90 244.77 L373.50 244.94 L375.10 244.88 L376.70 244.54 L378.30 245.17 L379.90 244.78 L381.50 245.83 L383.10 245.13 L384.70 245.70 L386.30 245.63 L387.90 246.14 L389.50 245.80 L391.10 246.57 L392.70 246.40 L394.30 247.12 L395.90 247.14 L397.50 247.23 L399.10 247.17 L400.70 247.99 L402.30 248.17 L403.90 248.87 L405.50 248.46 L407.10 249.08 L408.70 249.37 L410.30 249.61 L411.90 249.90 L413.50 250.21 L415.10 250.26 L416.70 250.44 L418.30 250.99 L419.90 251.67 L421.50 252.33 L423.10 252.49 L424.70 252.86 L426.30 253.10 L427.90 253.43" stroke="#eb3778" stroke-width="0.7" fill="none" stroke-linejoin="round" stroke-linecap="round"/>
<path d="M304.70 266.90 L306.30 266.44 L307.90 266.12 L309.50 264.72 L311.10 263.93 L312.70 264.19 L314.30 262.93 L315.90 262.52 L317.50 261.83 L319.10 260.47 L320.70 261.06 L322.30 260.18 L323.90 258.97 L325.50 258.52 L327.10 257.65 L328.70 256.65 L330.30 256.28 L331.90 255.81 L333.50 255.44 L335.10 254.66 L336.70 253.81 L338.30 253.64 L339.90 252.29 L341.50 252.22 L343.10 251.73 L344.70 250.64 L346.30 249.54 L347.90 249.27 L349.50 249.11 L351.10 248.66 L352.70 248.49 L354.30 247.08 L355.90 246.94 L357.50 246.70 L359.10 245.98 L360.70 244.80 L362.30 245.54 L363.90 245.75 L365.50 245.01 L367.10 244.12 L368.70 244.14 L370.30 244.27 L371.90 245.03 L373.50 244.39 L375.10 244.25 L376.70 244.81 L378.30 244.32 L379.90 245.10 L381.50 244.33 L383.10 244.54 L384.70 245.12 L386.30 245.54 L387.90 245.46 L389.50 245.54 L391.10 245.02 L392.70 245.64 L394.30 245.92 L395.90 246.20 L397.50 246.86 L399.10 246.81 L400.70 247.49 L402.30 247.53 L403.90 247.68 L405.50 248.14 L407.10 248.56 L408.70 249.03 L410.30 248.88 L411.90 249.29 L413.50 249.23 L415.10 250.60 L416.70 250.88 L418.30 250.65 L419.90 250.89 L421.50 250.97 L423.10 251.81 L424.70 252.18 L426.30 253.22 L427.90 252.90" stroke="#e3397b" stroke-width="0.7" fill="none" stroke-linejoin="round" stroke-linecap="round"/>
<path d="M304.70 265.76 L306.30 264.51 L307.90 265.20 L309.50 264.11 L311.10 262.81 L312.70 262.78 L314.30 261.49 L315.90 262.61 L317.50 261.13 L319.10 260.28 L320.70 259.37 L322.30 258.03 L323.90 258.08 L325.50 256.93 L327.10 257.04 L328.70 255.44 L330.30 255.23 L331.90 255.34 L333.50 254.86 L335.10 253.24 L336.70 252.49 L338.30 252.72 L339.90 252.10 L341.50 250.85 L343.10 250.35 L344.70 249.76 L346.30 249.01 L347.90 248.61 L349.50 248.73 L351.10 247.99 L352.70 247.94 L354.30 246.68 L355.90 246.18 L357.50 245.42 L359.10 245.29 L360.70 244.47 L362.30 243.95 L363.90 244.50 L365.50 244.49 L367.10 244.07 L368.70 244.09 L370.30 243.63 L371.90 243.27 L373.50 243.56 L375.10 243.44 L376.70 243.25 L378.30 243.13 L379.90 243.31 L381.50 243.96 L383.10 244.16 L384.70 244.10 L386.30 244.95 L387.90 244.72 L389.50 245.07 L391.10 245.52 L392.70 245.05 L394.30 244.90 L395.90 246.12 L397.50 245.89 L399.10 246.87 L400.70 246.82 L402.30 247.35 L403.90 247.58 L405.50 246.89 L407.10 248.19 L408.70 248.03 L410.30 248.33 L411.90 248.77 L413.50 249.53 L415.10 249.92 L416.70 250.31 L418.30 249.72 L419.90 250.45 L421.50 250.18 L423.10 251.33 L424.70 251.93 L426.30 251.82 L427.90 252.54" stroke="#db3c7f" stroke-width="0.7" fill="none" stroke-linejoin="round" stroke-linecap="round"/>
<path d="M304.70 265.31 L306.30 264.92 L307.90 263.62 L309.50 262.95 L311.10 262.32 L312.70 262.54 L314.30 261.65 L315.90 260.57 L317.50 260.03 L319.10 259.34 L320.70 258.72 L322.30 257.93 L323.90 257.23 L325.50 256.26 L327.10 255.84 L328.70 256.00 L330.30 254.97 L331.90 254.17 L333.50 253.45 L335.10 252.92 L336.70 252.40 L338.30 251.43 L339.90 251.12 L341.50 250.53 L343.10 249.59 L344.70 248.98 L346.30 248.33 L347.90 247.74 L349.50 247.87 L351.10 246.19 L352.70 246.40 L354.30 245.78 L355.90 245.29 L357.50 245.09 L359.10 245.02 L360.70 244.26 L362.30 243.83 L363.90 243.36 L365.50 243.27 L367.10 243.43 L368.70 242.83 L370.30 242.49 L371.90 242.43 L373.50 242.51 L375.10 242.46 L376.70 243.39 L378.30 243.23 L379.90 243.13 L381.50 243.86 L383.10 243.27 L384.70 243.94 L386.30 244.15 L387.90 243.54 L389.50 243.76 L391.10 244.21 L392.70 245.11 L394.30 245.50 L395.90 244.89 L397.50 245.97 L399.10 245.76 L400.70 246.06 L402.30 246.31 L403.90 246.71 L405.50 246.51 L407.10 247.12 L408.70 247.37 L410.30 248.31 L411.90 249.21 L413.50 249.79 L415.10 249.06 L416.70 248.93 L418.30 249.75 L419.90 249.92 L421.50 251.31 L423.10 251.18 L424.70 251.09 L426.30 252.05 L427.90 252.28" stroke="#d43f83" stroke-width="0.7" fill="none" stroke-linejoin="round" stroke-linecap="round"/>
<path d="M304.70 263.86 L306.30 263.59 L307.90 263.03 L309.50 262.46 L311.10 261.84 L312.70 261.02 L314.30 260.54 L315.90 259.62 L317.50 258.86 L319.10 259.05 L320.70 257.99 L322.30 257.37 L323.90 256.02 L325.50 255.87 L327.10 255.58 L328.70 254.20 L330.30 254.40 L331.90 253.25 L333.50 252.90 L335.10 252.09 L336.70 251.59 L338.30 251.32 L339.90 250.15 L341.50 250.24 L343.10 248.83 L344.70 248.19 L346.30 248.19 L347.90 247.01 L349.50 246.70 L351.10 246.61 L352.70 246.20 L354.30 244.65 L355.90 244.97 L357.50 245.00 L359.10 244.34 L360.70 243.45 L362.30 242.98 L363.90 242.79 L365.50 242.24 L367.10 242.35 L368.70 242.25 L370.30 242.19 L371.90 242.65 L373.50 242.18 L375.10 241.80 L376.70 242.75 L378.30 242.11 L379.90 242.45 L381.50 242.70 L383.10 242.79 L384.70 242.74 L386.30 243.20 L387.90 244.27 L389.50 243.52 L391.10 243.94 L392.70 244.64 L394.30 244.77 L395.90 245.06 L397.50 245.39 L399.10 244.70 L400.70 245.39 L402.30 246.06 L403.90 246.51 L405.50 247.12 L407.10 247.17 L408.70 247.26 L410.30 247.71 L411.90 247.97 L413.50 248.48 L415.10 248.99 L416.70 249.00 L418.30 249.20 L419.90 249.55 L421.50 250.61 L423.10 251.05 L424.70 251.32 L426.30 251.65 L427.90 252.02" stroke="#cc4287" stroke-width="0.7" fill="none" stroke-linejoin="round" stroke-linecap="round"/>
<path d="M304.70 263.63 L306.30 263.21 L307.90 261.95 L309.50 261.58 L311.10 260.74 L312.70 260.60 L314.30 259.49 L315.90 259.00 L317.50 258.53 L319.10 258.21 L320.70 256.81 L322.30 256.11 L323.90 256.09 L325.50 254.77 L327.10 254.68 L328.70 253.68 L330.30 253.21 L331.90 251.99 L333.50 252.25 L335.10 251.20 L336.70 250.45 L338.30 250.88 L339.90 249.79 L341.50 250.18 L343.10 248.50 L344.70 247.65 L346.30 247.24 L347.90 247.21 L349.50 246.09 L351.10 245.72 L352.70 245.23 L354.30 244.24 L355.90 244.13 L357.50 243.46 L359.10 242.79 L360.70 243.15 L362.30 242.74 L363.90 242.24 L365.50 241.65 L367.10 241.08 L368.70 241.83 L370.30 241.56 L371.90 241.01 L373.50 241.60 L375.10 241.15 L376.70 241.75 L378.30 241.91 L379.90 242.12 L381.50 242.22 L383.10 242.37 L384.70 242.10 L386.30 242.58 L387.90 242.76 L389.50 243.09 L391.10 243.53 L392.70 243.92 L394.30 244.55 L395.90 243.37 L397.50 244.71 L399.10 244.81 L400.70 245.99 L402.30 245.85 L403.90 245.28 L405.50 246.34 L407.10 246.36 L408.70 247.24 L410.30 246.88 L411.90 247.57 L413.50 247.92 L415.10 248.30 L416.70 248.50 L418.30 248.44 L419.90 249.62 L421.50 250.18 L423.10 250.19 L424.70 250.25 L426.30 251.06 L427.90 251.57" stroke="#c5448a" stroke-width="0.7" fill="none" stroke-linejoin="round" stroke-linecap="round"/>
<path d="M304.70 262.77 L306.30 262.17 L307.90 262.01 L309.50 260.47 L311.10 260.01 L312.70 258.89 L314.30 258.66 L315.90 257.99 L317.50 257.27 L319.10 256.71 L320.70 256.94 L322.30 255.60 L323.90 254.98 L325.50 255.15 L327.10 253.73 L328.70 252.51 L330.30 252.63 L331.90 251.53 L333.50 251.81 L335.10 250.18 L336.70 249.80 L338.30 248.84 L339.90 248.83 L341.50 247.84 L343.10 247.59 L344.70 246.90 L346.30 246.25 L347.90 246.24 L349.50 245.69 L351.10 244.86 L352.70 244.01 L354.30 243.46 L355.90 243.47 L357.50 243.77 L359.10 242.36 L360.70 241.87 L362.30 241.57 L363.90 241.15 L365.50 240.96 L367.10 241.05 L368.70 241.51 L370.30 240.95 L371.90 240.78 L373.50 240.43 L375.10 241.13 L376.70 241.13 L378.30 240.82 L379.90 241.00 L381.50 241.52 L383.10 242.07 L384.70 242.14 L386.30 242.21 L387.90 242.25 L389.50 242.73 L391.10 242.88 L392.70 243.92 L394.30 243.05 L395.90 243.62 L397.50 244.50 L399.10 244.28 L400.70 245.20 L402.30 245.02 L403.90 245.43 L405.50 245.60 L407.10 245.60 L408.70 246.10 L410.30 247.58 L411.90 247.40 L413.50 247.75 L415.10 248.25 L416.70 248.49 L418.30 249.04 L419.90 248.97 L421.50 249.37 L423.10 250.19 L424.70 250.11 L426.30 250.16 L427.90 250.95" stroke="#bd478e" stroke-width="0.7" fill="none" stroke-linejoin="round" stroke-linecap="round"/>
<path d="M304.70 261.84 L306.30 261.59 L307.90 260.47 L309.50 259.70 L311.10 259.30 L312.70 259.31 L314.30 258.10 L315.90 257.52 L317.50 256.82 L319.10 256.28 L320.70 255.86 L322.30 255.38 L323.90 253.67 L325.50 254.09 L327.10 252.98 L328.70 252.24 L330.30 252.56 L331.90 251.04 L333.50 251.16 L335.10 250.20 L336.70 248.89 L338.30 248.82 L339.90 248.30 L341.50 247.41 L343.10 246.06 L344.70 246.17 L346.30 245.66 L347.90 244.79 L349.50 245.28 L351.10 244.03 L352.70 243.47 L354.30 243.02 L355.90 242.39 L357.50 241.95 L359.10 241.86 L360.70 241.57 L362.30 240.95 L363.90 240.82 L365.50 240.14 L367.10 240.64 L368.70 240.09 L370.30 240.39 L371.90 240.00 L373.50 240.18 L375.10 240.50 L376.70 240.09 L378.30 241.50 L379.90 240.76 L381.50 240.91 L383.10 240.87 L384.70 241.89 L386.30 242.04 L387.90 241.91 L389.50 241.58 L391.10 242.16 L392.70 242.84 L394.30 242.74 L395.90 242.81 L397.50 243.13 L399.10 243.60 L400.70 244.21 L402.30 244.33 L403.90 244.91 L405.50 246.24 L407.10 246.24 L408.70 245.63 L410.30 246.48 L411.90 246.77 L413.50 247.07 L415.10 247.87 L416.70 247.77 L418.30 248.17 L419.90 248.54 L421.50 249.03 L423.10 249.92 L424.70 250.14 L426.30 249.80 L427.90 250.52" stroke="#b54a92" stroke-width="0.7" fill="none" stroke-linejoin="round" stroke-linecap="round"/>
<path d="M304.70 260.96 L306.30 260.87 L307.90 260.01 L309.50 259.59 L311.10 258.60 L312.70 257.31 L314.30 257.49 L315.90 256.76 L317.50 256.21 L319.10 254.94 L320.70 254.78 L322.30 253.87 L323.90 253.24 L325.50 252.97 L327.10 252.33 L328.70 251.27 L330.30 250.36 L331.90 249.47 L333.50 249.52 L335.10 249.50 L336.70 248.48 L338.30 247.11 L339.90 247.00 L341.50 246.86 L343.10 246.71 L344.70 245.96 L346.30 245.12 L347.90 244.51 L349.50 243.54 L351.10 243.23 L352.70 242.77 L354.30 242.14 L355.90 241.97 L357.50 241.38 L359.10 241.24 L360.70 241.27 L362.30 240.71 L363.90 240.32 L365.50 239.88 L367.10 239.27 L368.70 239.66 L370.30 239.86 L371.90 239.33 L373.50 240.16 L375.10 239.68 L376.70 240.02 L378.30 239.90 L379.90 239.73 L381.50 241.07 L383.10 240.13 L384.70 241.07 L386.30 240.79 L387.90 241.34 L389.50 241.23 L391.10 241.64 L392.70 242.41 L394.30 243.07 L395.90 242.41 L397.50 243.04 L399.10 243.71 L400.70 243.50 L402.30 244.32 L403.90 244.16 L405.50 245.01 L407.10 245.32 L408.70 245.97 L410.30 246.05 L411.90 245.89 L413.50 246.93 L415.10 246.70 L416.70 247.75 L418.30 248.41 L419.90 248.49 L421.50 248.50 L423.10 249.51 L424.70 249.56 L426.30 249.48 L427.90 250.20" stroke="#ae4d96" stroke-width="0.7" fill="none" stroke-linejoin="round" stroke-linecap="round"/>
<path d="M304.70 260.93 L306.30 259.68 L307.90 259.18 L309.50 258.36 L311.10 257.25 L312.70 257.01 L314.30 256.67 L315.90 255.97 L317.50 255.19 L319.10 253.87 L320.70 254.40 L322.30 253.59 L323.90 253.06 L325.50 252.53 L327.10 251.29 L328.70 250.60 L330.30 250.30 L331.90 250.16 L333.50 248.37 L335.10 248.27 L336.70 247.49 L338.30 247.34 L339.90 247.06 L341.50 245.86 L343.10 244.95 L344.70 244.83 L346.30 244.16 L347.90 243.17 L349.50 243.49 L351.10 242.48 L352.70 242.41 L354.30 241.23 L355.90 241.62 L357.50 240.31 L359.10 240.80 L360.70 239.44 L362.30 240.25 L363.90 239.37 L365.50 238.75 L367.10 239.06 L368.70 239.17 L370.30 238.68 L371.90 238.87 L373.50 239.19 L375.10 239.11 L376.70 238.20 L378.30 239.26 L379.90 239.71 L381.50 239.85 L383.10 240.30 L384.70 239.93 L386.30 241.31 L387.90 240.96 L389.50 241.07 L391.10 241.63 L392.70 241.89 L394.30 241.90 L395.90 241.98 L397.50 242.89 L399.10 243.03 L400.70 242.57 L402.30 243.21 L403.90 244.12 L405.50 244.37 L407.10 244.81 L408.70 245.32 L410.30 245.54 L411.90 246.44 L413.50 246.07 L415.10 246.54 L416.70 247.20 L418.30 247.75 L419.90 248.18 L421.50 248.83 L423.10 248.56 L424.70 249.55 L426.30 249.73 L427.90 249.62" stroke="#a64f9a" stroke-width="0.7" fill="none" stroke-linejoin="round" stroke-linecap="round"/>
<path d="M304.70 259.59 L306.30 259.72 L307.90 258.62 L309.50 257.53 L311.10 256.21 L312.70 256.14 L314.30 255.51 L315.90 255.14 L317.50 255.28 L319.10 254.10 L320.70 253.31 L322.30 252.24 L323.90 251.52 L325.50 251.23 L327.10 250.51 L328.70 251.10 L330.30 249.29 L331.90 248.60 L333.50 248.59 L335.10 247.62 L336.70 246.56 L338.30 246.84 L339.90 245.69 L341.50 244.75 L343.10 244.76 L344.70 244.25 L346.30 243.41 L347.90 243.23 L349.50 242.74 L351.10 241.63 L352.70 240.73 L354.30 240.14 L355.90 240.49 L357.50 240.55 L359.10 240.08 L360.70 239.87 L362.30 239.73 L363.90 238.84 L365.50 239.00 L367.10 237.95 L368.70 238.65 L370.30 238.52 L371.90 238.38 L373.50 238.31 L375.10 238.16 L376.70 238.71 L378.30 239.24 L379.90 238.83 L381.50 239.34 L383.10 239.13 L384.70 239.69 L386.30 239.50 L387.90 240.25 L389.50 240.33 L391.10 240.82 L392.70 240.81 L394.30 240.94 L395.90 241.57 L397.50 242.39 L399.10 242.94 L400.70 242.63 L402.30 243.40 L403.90 243.76 L405.50 244.01 L407.10 243.72 L408.70 244.77 L410.30 244.72 L411.90 245.87 L413.50 246.14 L415.10 246.49 L416.70 245.80 L418.30 247.32 L419.90 247.76 L421.50 247.49 L423.10 248.70 L424.70 248.81 L426.30 249.15 L427.90 249.39" stroke="#9f529d" stroke-width="0.7" fill="none" stroke-linejoin="round" stroke-linecap="round"/>
<path d="M304.70 258.49 L306.30 258.04 L307.90 258.63 L309.50 256.97 L311.10 256.33 L312.70 255.39 L314.30 254.76 L315.90 254.14 L317.50 253.38 L319.10 253.36 L320.70 252.33 L322.30 252.09 L323.90 250.75 L325.50 250.86 L327.10 249.90 L328.70 249.52 L330.30 248.63 L331.90 247.74 L333.50 247.87 L335.10 246.68 L336.70 246.19 L338.30 245.33 L339.90 245.13 L341.50 244.34 L343.10 244.00 L344.70 243.46 L346.30 242.55 L347.90 241.76 L349.50 241.88 L351.10 241.54 L352.70 240.98 L354.30 239.87 L355.90 240.04 L357.50 239.55 L359.10 239.14 L360.70 238.85 L362.30 238.29 L363.90 238.23 L365.50 238.29 L367.10 237.65 L368.70 237.25 L370.30 237.71 L371.90 237.84 L373.50 237.19 L375.10 237.69 L376.70 238.25 L378.30 238.14 L379.90 238.40 L381.50 238.12 L383.10 239.10 L384.70 239.64 L386.30 239.22 L387.90 239.31 L389.50 239.46 L391.10 240.48 L392.70 240.53 L394.30 240.55 L395.90 241.60 L397.50 241.80 L399.10 242.11 L400.70 241.65 L402.30 242.61 L403.90 243.25 L405.50 242.99 L407.10 244.14 L408.70 244.72 L410.30 244.99 L411.90 244.78 L413.50 245.20 L415.10 246.20 L416.70 246.64 L418.30 247.14 L419.90 247.56 L421.50 247.53 L423.10 247.85 L424.70 247.78 L426.30 249.14 L427.90 250.10" stroke="#9755a1" stroke-width="0.7" fill="none" stroke-linejoin="round" stroke-linecap="round"/>
<path d="M304.70 257.88 L306.30 257.23 L307.90 256.98 L309.50 256.24 L311.10 254.99 L312.70 254.58 L314.30 253.80 L315.90 254.26 L317.50 252.66 L319.10 252.58 L320.70 252.32 L322.30 251.68 L323.90 250.89 L325.50 250.33 L327.10 248.71 L328.70 248.40 L330.30 247.65 L331.90 247.19 L333.50 247.60 L335.10 245.49 L336.70 245.68 L338.30 244.46 L339.90 244.78 L341.50 244.19 L343.10 242.98 L344.70 243.33 L346.30 242.08 L347.90 241.98 L349.50 241.11 L351.10 240.30 L352.70 239.88 L354.30 239.51 L355.90 239.34 L357.50 238.76 L359.10 239.17 L360.70 237.94 L362.30 237.56 L363.90 237.23 L365.50 237.03 L367.10 236.67 L368.70 236.77 L370.30 237.42 L371.90 237.16 L373.50 237.14 L375.10 237.42 L376.70 237.80 L378.30 237.80 L379.90 238.04 L381.50 237.78 L383.10 238.11 L384.70 238.18 L386.30 238.69 L387.90 238.73 L389.50 239.19 L391.10 239.58 L392.70 239.90 L394.30 240.22 L395.90 240.50 L397.50 241.49 L399.10 241.29 L400.70 241.43 L402.30 242.24 L403.90 242.19 L405.50 242.59 L407.10 243.41 L408.70 243.20 L410.30 243.07 L411.90 244.72 L413.50 245.40 L415.10 244.88 L416.70 245.58 L418.30 246.53 L419.90 246.07 L421.50 246.89 L423.10 247.22 L424.70 248.01 L426.30 247.83 L427.90 249.28" stroke="#8f58a5" stroke-width="0.7" fill="none" stroke-linejoin="round" stroke-linecap="round"/>
<path d="M304.70 257.20 L306.30 256.71 L307.90 255.85 L309.50 254.58 L311.10 254.63 L312.70 253.57 L314.30 253.41 L315.90 252.47 L317.50 252.02 L319.10 251.43 L320.70 251.14 L322.30 250.51 L323.90 249.26 L325.50 248.99 L327.10 248.88 L328.70 247.93 L330.30 246.89 L331.90 246.49 L333.50 245.81 L335.10 245.66 L336.70 244.75 L338.30 244.28 L339.90 244.34 L341.50 242.51 L343.10 242.07 L344.70 241.26 L346.30 240.77 L347.90 241.09 L349.50 240.38 L351.10 240.35 L352.70 238.61 L354.30 238.54 L355.90 238.92 L357.50 238.38 L359.10 237.96 L360.70 237.63 L362.30 237.06 L363.90 236.81 L365.50 236.65 L367.10 236.82 L368.70 236.41 L370.30 236.58 L371.90 237.02 L373.50 236.18 L375.10 236.42 L376.70 237.01 L378.30 236.89 L379.90 237.11 L381.50 238.12 L383.10 237.77 L384.70 237.74 L386.30 238.55 L387.90 239.35 L389.50 238.39 L391.10 238.87 L392.70 239.49 L394.30 239.58 L395.90 240.93 L397.50 240.72 L399.10 240.78 L400.70 241.48 L402.30 241.43 L403.90 241.90 L405.50 242.56 L407.10 243.77 L408.70 242.57 L410.30 243.92 L411.90 244.68 L413.50 244.89 L415.10 245.74 L416.70 245.66 L418.30 246.00 L419.90 246.34 L421.50 246.53 L423.10 247.85 L424.70 247.32 L426.30 248.14 L427.90 248.45" stroke="#885aa9" stroke-width="0.7" fill="none" stroke-linejoin="round" stroke-linecap="round"/>
<path d="M304.70 256.18 L306.30 255.03 L307.90 255.04 L309.50 254.58 L311.10 253.94 L312.70 253.55 L314.30 252.56 L315.90 251.76 L317.50 251.46 L319.10 250.96 L320.70 249.78 L322.30 248.94 L323.90 248.49 L325.50 248.60 L327.10 247.96 L328.70 246.68 L330.30 246.42 L331.90 246.07 L333.50 245.64 L335.10 244.34 L336.70 243.90 L338.30 243.89 L339.90 243.66 L341.50 242.78 L343.10 241.29 L344.70 241.29 L346.30 240.49 L347.90 240.05 L349.50 239.32 L351.10 238.89 L352.70 238.58 L354.30 238.77 L355.90 237.96 L357.50 237.47 L359.10 236.97 L360.70 236.38 L362.30 236.29 L363.90 236.58 L365.50 236.27 L367.10 236.56 L368.70 235.91 L370.30 235.82 L371.90 235.31 L373.50 236.09 L375.10 235.46 L376.70 236.74 L378.30 236.16 L379.90 236.58 L381.50 236.33 L383.10 236.88 L384.70 237.00 L386.30 238.01 L387.90 238.01 L389.50 237.83 L391.10 237.90 L392.70 238.91 L394.30 239.12 L395.90 239.28 L397.50 240.26 L399.10 240.38 L400.70 240.88 L402.30 241.04 L403.90 241.46 L405.50 241.91 L407.10 241.94 L408.70 243.14 L410.30 243.50 L411.90 243.19 L413.50 244.27 L415.10 245.08 L416.70 245.20 L418.30 246.02 L419.90 245.92 L421.50 246.47 L423.10 246.47 L424.70 247.07 L426.30 247.20 L427.90 247.99" stroke="#805dad" stroke-width="0.7" fill="none" stroke-linejoin="round" stroke-linecap="round"/>
<path d="M304.70 255.74 L306.30 255.20 L307.90 254.79 L309.50 253.79 L311.10 252.76 L312.70 252.62 L314.30 251.79 L315.90 251.83 L317.50 251.26 L319.10 250.28 L320.70 248.92 L322.30 248.51 L323.90 248.14 L325.50 247.21 L327.10 247.03 L328.70 246.47 L330.30 245.92 L331.90 245.10 L333.50 244.11 L335.10 243.53 L336.70 243.19 L338.30 243.11 L339.90 242.63 L341.50 241.85 L343.10 241.07 L344.70 240.64 L346.30 240.15 L347.90 239.79 L349.50 239.13 L351.10 237.80 L352.70 238.21 L354.30 237.56 L355.90 236.85 L357.50 236.80 L359.10 236.37 L360.70 235.94 L362.30 235.10 L363.90 235.52 L365.50 235.51 L367.10 235.20 L368.70 234.62 L370.30 235.35 L371.90 235.49 L373.50 235.39 L375.10 235.59 L376.70 235.47 L378.30 235.55 L379.90 236.17 L381.50 236.10 L383.10 236.54 L384.70 237.90 L386.30 237.31 L387.90 237.42 L389.50 237.14 L391.10 238.09 L392.70 238.68 L394.30 238.54 L395.90 239.09 L397.50 238.77 L399.10 240.16 L400.70 240.16 L402.30 241.02 L403.90 241.68 L405.50 241.57 L407.10 242.41 L408.70 242.58 L410.30 242.87 L411.90 243.28 L413.50 243.53 L415.10 244.73 L416.70 245.04 L418.30 244.84 L419.90 245.94 L421.50 245.85 L423.10 246.05 L424.70 247.46 L426.30 247.06 L427.90 248.39" stroke="#7961b0" stroke-width="0.7" fill="none" stroke-linejoin="round" stroke-linecap="round"/>
<path d="M304.70 254.93 L306.30 254.54 L307.90 253.77 L309.50 253.36 L311.10 252.44 L312.70 251.89 L314.30 251.14 L315.90 250.81 L317.50 249.66 L319.10 249.53 L320.70 249.08 L322.30 247.90 L323.90 247.46 L325.50 246.51 L327.10 245.98 L328.70 245.56 L330.30 244.74 L331.90 243.95 L333.50 243.65 L335.10 243.14 L336.70 242.60 L338.30 242.15 L339.90 240.71 L341.50 241.26 L343.10 240.15 L344.70 239.39 L346.30 239.00 L347.90 238.77 L349.50 238.41 L351.10 237.50 L352.70 237.21 L354.30 236.16 L355.90 236.36 L357.50 235.89 L359.10 235.43 L360.70 235.59 L362.30 235.65 L363.90 235.17 L365.50 234.39 L367.10 235.10 L368.70 234.42 L370.30 234.54 L371.90 234.41 L373.50 234.86 L375.10 235.02 L376.70 235.04 L378.30 235.10 L379.90 235.35 L381.50 235.50 L383.10 236.25 L384.70 236.02 L386.30 236.45 L387.90 236.76 L389.50 236.91 L391.10 237.45 L392.70 237.39 L394.30 238.43 L395.90 238.86 L397.50 238.97 L399.10 240.03 L400.70 239.62 L402.30 240.52 L403.90 240.92 L405.50 241.00 L407.10 241.54 L408.70 242.38 L410.30 242.54 L411.90 243.07 L413.50 243.92 L415.10 243.96 L416.70 243.77 L418.30 244.56 L419.90 245.57 L421.50 245.71 L423.10 245.85 L424.70 246.01 L426.30 247.28 L427.90 248.17" stroke="#7365b3" stroke-width="0.7" fill="none" stroke-linejoin="round" stroke-linecap="round"/>
<path d="M304.70 253.63 L306.30 252.68 L307.90 252.97 L309.50 251.98 L311.10 251.43 L312.70 250.79 L314.30 249.96 L315.90 249.80 L317.50 249.34 L319.10 248.52 L320.70 247.58 L322.30 247.52 L323.90 246.50 L325.50 246.13 L327.10 244.99 L328.70 244.94 L330.30 244.36 L331.90 243.95 L333.50 242.92 L335.10 242.47 L336.70 241.53 L338.30 241.46 L339.90 240.86 L341.50 240.40 L343.10 239.34 L344.70 238.51 L346.30 238.38 L347.90 237.82 L349.50 237.13 L351.10 237.12 L352.70 236.78 L354.30 236.15 L355.90 235.99 L357.50 235.37 L359.10 234.55 L360.70 234.39 L362.30 234.22 L363.90 234.38 L365.50 234.32 L367.10 233.97 L368.70 234.25 L370.30 233.64 L371.90 233.94 L373.50 234.60 L375.10 234.37 L376.70 234.75 L378.30 233.93 L379.90 234.23 L381.50 234.76 L383.10 235.69 L384.70 236.20 L386.30 235.75 L387.90 235.96 L389.50 236.30 L391.10 236.71 L392.70 237.59 L394.30 237.68 L395.90 238.83 L397.50 238.84 L399.10 238.78 L400.70 239.52 L402.30 239.82 L403.90 240.58 L405.50 241.06 L407.10 241.08 L408.70 241.96 L410.30 242.31 L411.90 242.54 L413.50 243.12 L415.10 243.74 L416.70 243.86 L418.30 244.21 L419.90 245.36 L421.50 245.40 L423.10 245.67 L424.70 246.52 L426.30 246.33 L427.90 247.34" stroke="#6c6ab6" stroke-width="0.7" fill="none" stroke-linejoin="round" stroke-linecap="round"/>
<path d="M304.70 252.81 L306.30 252.50 L307.90 251.40 L309.50 251.13 L311.10 251.06 L312.70 250.06 L314.30 249.08 L315.90 249.47 L317.50 248.03 L319.10 248.13 L320.70 246.82 L322.30 245.88 L323.90 246.41 L325.50 245.01 L327.10 244.81 L328.70 244.36 L330.30 242.89 L331.90 242.77 L333.50 241.96 L335.10 241.78 L336.70 240.98 L338.30 239.98 L339.90 239.87 L341.50 239.55 L343.10 238.64 L344.70 238.39 L346.30 237.49 L347.90 237.15 L349.50 236.79 L351.10 236.24 L352.70 236.17 L354.30 235.63 L355.90 235.20 L357.50 234.79 L359.10 234.26 L360.70 233.52 L362.30 234.04 L363.90 234.08 L365.50 233.43 L367.10 233.19 L368.70 233.25 L370.30 233.70 L371.90 233.46 L373.50 233.13 L375.10 233.55 L376.70 233.52 L378.30 233.92 L379.90 233.92 L381.50 234.19 L383.10 235.29 L384.70 235.45 L386.30 234.86 L387.90 235.43 L389.50 235.97 L391.10 236.37 L392.70 236.41 L394.30 237.59 L395.90 237.15 L397.50 238.35 L399.10 238.78 L400.70 238.85 L402.30 239.19 L403.90 239.89 L405.50 240.37 L407.10 240.06 L408.70 240.81 L410.30 241.88 L411.90 242.13 L413.50 242.50 L415.10 242.78 L416.70 243.35 L418.30 243.81 L419.90 245.51 L421.50 244.62 L423.10 246.06 L424.70 246.18 L426.30 246.58 L427.90 247.07" stroke="#666eb9" stroke-width="0.7" fill="none" stroke-linejoin="round" stroke-linecap="round"/>
<path d="M304.70 252.36 L306.30 252.40 L307.90 251.40 L309.50 250.58 L311.10 249.92 L312.70 249.41 L314.30 248.32 L315.90 247.98 L317.50 247.26 L319.10 247.06 L320.70 246.44 L322.30 244.98 L323.90 244.93 L325.50 244.74 L327.10 243.35 L328.70 242.78 L330.30 242.93 L331.90 241.95 L333.50 241.25 L335.10 240.40 L336.70 240.30 L338.30 239.48 L339.90 239.18 L341.50 238.70 L343.10 238.25 L344.70 237.36 L346.30 236.77 L347.90 236.45 L349.50 235.92 L351.10 235.54 L352.70 234.85 L354.30 234.52 L355.90 234.01 L357.50 233.64 L359.10 233.57 L360.70 233.63 L362.30 232.82 L363.90 233.02 L365.50 232.81 L367.10 232.67 L368.70 232.85 L370.30 232.46 L371.90 232.92 L373.50 232.95 L375.10 231.80 L376.70 233.30 L378.30 233.60 L379.90 234.31 L381.50 233.55 L383.10 234.25 L384.70 234.65 L386.30 234.54 L387.90 235.64 L389.50 235.75 L391.10 235.71 L392.70 235.97 L394.30 236.65 L395.90 238.02 L397.50 238.38 L399.10 237.23 L400.70 237.89 L402.30 239.20 L403.90 239.39 L405.50 239.67 L407.10 240.56 L408.70 240.85 L410.30 241.39 L411.90 241.86 L413.50 241.88 L415.10 243.19 L416.70 243.06 L418.30 244.10 L419.90 244.44 L421.50 244.71 L423.10 245.24 L424.70 245.67 L426.30 245.55 L427.90 246.57" stroke="#5f73bc" stroke-width="0.7" fill="none" stroke-linejoin="round" stroke-linecap="round"/>
<path d="M304.70 251.84 L306.30 250.51 L307.90 249.92 L309.50 250.18 L311.10 249.46 L312.70 248.03 L314.30 248.09 L315.90 247.30 L317.50 247.03 L319.10 245.97 L320.70 245.39 L322.30 244.59 L323.90 244.30 L325.50 243.59 L327.10 242.80 L328.70 242.31 L330.30 241.57 L331.90 241.45 L333.50 240.30 L335.10 239.54 L336.70 239.16 L338.30 239.30 L339.90 238.19 L341.50 238.04 L343.10 237.52 L344.70 236.56 L346.30 236.48 L347.90 235.89 L349.50 235.22 L351.10 234.52 L352.70 234.30 L354.30 233.46 L355.90 233.41 L357.50 232.95 L359.10 232.99 L360.70 232.68 L362.30 232.11 L363.90 232.46 L365.50 232.45 L367.10 232.00 L368.70 231.72 L370.30 232.20 L371.90 231.26 L373.50 232.03 L375.10 232.59 L376.70 233.27 L378.30 232.55 L379.90 233.59 L381.50 234.15 L383.10 234.30 L384.70 233.17 L386.30 234.71 L387.90 234.76 L389.50 235.43 L391.10 235.41 L392.70 235.67 L394.30 236.22 L395.90 237.25 L397.50 237.45 L399.10 237.51 L400.70 238.19 L402.30 238.82 L403.90 239.18 L405.50 239.44 L407.10 239.70 L408.70 240.15 L410.30 240.74 L411.90 241.18 L413.50 241.31 L415.10 241.86 L416.70 243.15 L418.30 242.96 L419.90 243.39 L421.50 244.33 L423.10 245.35 L424.70 245.79 L426.30 245.72 L427.90 246.01" stroke="#5877c0" stroke-width="0.7" fill="none" stroke-linejoin="round" stroke-linecap="round"/>
<path d="M304.70 250.71 L306.30 249.96 L307.90 249.46 L309.50 249.19 L311.10 248.03 L312.70 247.50 L314.30 247.06 L315.90 246.52 L317.50 245.65 L319.10 245.03 L320.70 244.30 L322.30 243.82 L323.90 243.65 L325.50 242.78 L327.10 241.18 L328.70 241.88 L330.30 241.05 L331.90 240.18 L333.50 239.81 L335.10 238.27 L336.70 238.17 L338.30 238.59 L339.90 238.37 L341.50 237.83 L343.10 236.28 L344.70 236.02 L346.30 235.76 L347.90 234.57 L349.50 235.12 L351.10 233.80 L352.70 233.73 L354.30 232.79 L355.90 232.94 L357.50 232.46 L359.10 232.53 L360.70 231.48 L362.30 231.66 L363.90 232.13 L365.50 230.97 L367.10 231.46 L368.70 231.49 L370.30 231.22 L371.90 231.39 L373.50 232.10 L375.10 232.18 L376.70 232.18 L378.30 232.31 L379.90 232.09 L381.50 232.81 L383.10 233.72 L384.70 233.80 L386.30 233.32 L387.90 233.44 L389.50 234.33 L391.10 235.02 L392.70 235.19 L394.30 235.70 L395.90 236.36 L397.50 237.00 L399.10 237.22 L400.70 238.04 L402.30 237.57 L403.90 238.71 L405.50 239.17 L407.10 238.98 L408.70 240.43 L410.30 239.92 L411.90 240.47 L413.50 242.41 L415.10 242.43 L416.70 242.61 L418.30 243.46 L419.90 243.89 L421.50 243.60 L423.10 244.68 L424.70 245.51 L426.30 245.48 L427.90 246.08" stroke="#527cc3" stroke-width="0.7" fill="none" stroke-linejoin="round" stroke-linecap="round"/>
<path d="M304.70 249.95 L306.30 249.74 L307.90 248.66 L309.50 248.03 L311.10 247.18 L312.70 246.67 L314.30 246.45 L315.90 245.92 L317.50 245.01 L319.10 244.16 L320.70 244.04 L322.30 243.44 L323.90 243.15 L325.50 241.93 L327.10 241.36 L328.70 241.09 L330.30 240.85 L331.90 239.71 L333.50 239.12 L335.10 238.24 L336.70 237.87 L338.30 237.77 L339.90 237.18 L341.50 236.73 L343.10 235.22 L344.70 235.57 L346.30 234.44 L347.90 234.48 L349.50 232.96 L351.10 233.30 L352.70 232.59 L354.30 232.94 L355.90 232.16 L357.50 232.23 L359.10 231.31 L360.70 231.90 L362.30 230.84 L363.90 231.51 L365.50 230.56 L367.10 230.35 L368.70 231.02 L370.30 230.62 L371.90 230.84 L373.50 230.52 L375.10 231.05 L376.70 231.43 L378.30 231.38 L379.90 232.05 L381.50 231.40 L383.10 232.85 L384.70 232.74 L386.30 233.78 L387.90 233.52 L389.50 233.81 L391.10 234.30 L392.70 234.98 L394.30 235.53 L395.90 235.60 L397.50 235.94 L399.10 236.84 L400.70 237.45 L402.30 237.01 L403.90 237.74 L405.50 238.36 L407.10 239.69 L408.70 240.02 L410.30 240.36 L411.90 240.76 L413.50 240.69 L415.10 241.99 L416.70 241.95 L418.30 242.34 L419.90 243.82 L421.50 243.14 L423.10 244.66 L424.70 244.77 L426.30 244.89 L427.90 245.80" stroke="#4b80c6" stroke-width="0.7" fill="none" stroke-linejoin="round" stroke-linecap="round"/>
<path d="M304.70 249.02 L306.30 248.76 L307.90 247.84 L309.50 247.03 L311.10 247.77 L312.70 246.03 L314.30 245.95 L315.90 244.96 L317.50 244.61 L319.10 243.31 L320.70 242.78 L322.30 241.38 L323.90 242.30 L325.50 241.50 L327.10 240.33 L328.70 240.45 L330.30 239.77 L331.90 240.01 L333.50 238.48 L335.10 238.15 L336.70 237.47 L338.30 236.97 L339.90 236.14 L341.50 235.46 L343.10 235.32 L344.70 234.99 L346.30 233.63 L347.90 233.15 L349.50 233.06 L351.10 233.26 L352.70 232.12 L354.30 231.19 L355.90 231.71 L357.50 231.35 L359.10 231.48 L360.70 230.60 L362.30 231.03 L363.90 229.92 L365.50 230.41 L367.10 230.10 L368.70 229.65 L370.30 230.03 L371.90 230.71 L373.50 230.78 L375.10 230.44 L376.70 231.19 L378.30 231.37 L379.90 231.66 L381.50 231.75 L383.10 232.10 L384.70 232.05 L386.30 232.70 L387.90 233.16 L389.50 233.27 L391.10 233.85 L392.70 234.45 L394.30 234.91 L395.90 235.67 L397.50 235.39 L399.10 236.09 L400.70 236.80 L402.30 237.06 L403.90 237.80 L405.50 238.01 L407.10 239.09 L408.70 239.10 L410.30 239.28 L411.90 240.46 L413.50 241.30 L415.10 240.54 L416.70 241.70 L418.30 242.29 L419.90 243.15 L421.50 243.84 L423.10 243.79 L424.70 243.82 L426.30 245.14 L427.90 245.79" stroke="#4585c9" stroke-width="0.7" fill="none" stroke-linejoin="round" stroke-linecap="round"/>
<path d="M304.70 248.69 L306.30 247.93 L307.90 247.00 L309.50 247.53 L311.10 245.62 L312.70 244.90 L314.30 245.16 L315.90 244.31 L317.50 243.83 L319.10 243.11 L320.70 242.98 L322.30 242.28 L323.90 240.98 L325.50 240.93 L327.10 239.57 L328.70 238.79 L330.30 239.23 L331.90 238.07 L333.50 236.89 L335.10 237.07 L336.70 236.28 L338.30 236.14 L339.90 235.39 L341.50 234.60 L343.10 234.09 L344.70 234.10 L346.30 232.99 L347.90 232.88 L349.50 232.01 L351.10 232.08 L352.70 232.12 L354.30 231.30 L355.90 231.12 L357.50 230.56 L359.10 229.77 L360.70 229.76 L362.30 229.69 L363.90 229.68 L365.50 229.22 L367.10 229.63 L368.70 229.18 L370.30 229.53 L371.90 229.62 L373.50 229.37 L375.10 230.33 L376.70 230.22 L378.30 230.51 L379.90 230.76 L381.50 230.35 L383.10 230.94 L384.70 231.49 L386.30 232.55 L387.90 232.40 L389.50 233.24 L391.10 233.09 L392.70 233.60 L394.30 234.19 L395.90 235.20 L397.50 234.71 L399.10 235.71 L400.70 236.41 L402.30 236.80 L403.90 237.25 L405.50 238.03 L407.10 238.37 L408.70 238.42 L410.30 239.52 L411.90 239.53 L413.50 240.21 L415.10 241.37 L416.70 242.25 L418.30 242.42 L419.90 242.59 L421.50 242.70 L423.10 243.24 L424.70 244.64 L426.30 244.70 L427.90 244.64" stroke="#3e89cc" stroke-width="0.7" fill="none" stroke-linejoin="round" stroke-linecap="round"/>
<path d="M304.70 248.29 L306.30 247.32 L307.90 246.97 L309.50 246.03 L311.10 244.51 L312.70 244.39 L314.30 243.99 L315.90 243.37 L317.50 243.36 L319.10 241.98 L320.70 241.58 L322.30 240.99 L323.90 240.38 L325.50 239.45 L327.10 238.79 L328.70 237.73 L330.30 238.17 L331.90 237.40 L333.50 236.97 L335.10 235.96 L336.70 235.77 L338.30 234.87 L339.90 234.31 L341.50 234.25 L343.10 233.83 L344.70 233.30 L346.30 232.58 L347.90 231.98 L349.50 232.14 L351.10 231.65 L352.70 230.56 L354.30 230.01 L355.90 230.17 L357.50 229.82 L359.10 229.11 L360.70 229.99 L362.30 228.26 L363.90 228.57 L365.50 228.87 L367.10 229.12 L368.70 228.15 L370.30 228.72 L371.90 229.51 L373.50 229.66 L375.10 229.28 L376.70 229.63 L378.30 229.58 L379.90 230.34 L381.50 230.16 L383.10 230.18 L384.70 230.73 L386.30 231.69 L387.90 231.62 L389.50 232.91 L391.10 233.41 L392.70 233.76 L394.30 234.11 L395.90 234.75 L397.50 234.93 L399.10 235.63 L400.70 235.98 L402.30 236.60 L403.90 236.47 L405.50 237.11 L407.10 237.50 L408.70 238.67 L410.30 239.08 L411.90 239.15 L413.50 239.61 L415.10 240.28 L416.70 241.33 L418.30 241.52 L419.90 242.01 L421.50 242.40 L423.10 243.14 L424.70 244.29 L426.30 244.03 L427.90 244.70" stroke="#388ecf" stroke-width="0.7" fill="none" stroke-linejoin="round" stroke-linecap="round"/>
<path d="M304.70 247.55 L306.30 246.59 L307.90 245.31 L309.50 245.48 L311.10 244.04 L312.70 244.07 L314.30 242.37 L315.90 242.31 L317.50 242.37 L319.10 241.24 L320.70 240.59 L322.30 240.26 L323.90 239.65 L325.50 238.89 L327.10 238.23 L328.70 238.51 L330.30 237.83 L331.90 236.84 L333.50 235.75 L335.10 235.40 L336.70 234.93 L338.30 234.65 L339.90 234.50 L341.50 233.22 L343.10 232.93 L344.70 232.22 L346.30 231.93 L347.90 231.15 L349.50 231.07 L351.10 230.91 L352.70 229.94 L354.30 229.58 L355.90 229.38 L357.50 228.56 L359.10 229.39 L360.70 228.05 L362.30 228.21 L363.90 227.90 L365.50 228.67 L367.10 227.96 L368.70 227.99 L370.30 228.92 L371.90 228.34 L373.50 228.29 L375.10 228.78 L376.70 229.10 L378.30 229.06 L379.90 229.57 L381.50 229.91 L383.10 230.60 L384.70 231.01 L386.30 231.44 L387.90 231.53 L389.50 232.29 L391.10 232.39 L392.70 233.34 L394.30 233.54 L395.90 233.73 L397.50 234.81 L399.10 234.34 L400.70 235.04 L402.30 235.61 L403.90 236.36 L405.50 236.49 L407.10 237.02 L408.70 237.31 L410.30 238.55 L411.90 238.77 L413.50 240.35 L415.10 240.39 L416.70 240.26 L418.30 241.68 L419.90 241.79 L421.50 242.69 L423.10 242.47 L424.70 243.82 L426.30 244.35 L427.90 244.37" stroke="#3192d2" stroke-width="0.7" fill="none" stroke-linejoin="round" stroke-linecap="round"/>
<path d="M304.70 245.86 L306.30 245.41 L307.90 245.02 L309.50 245.17 L311.10 244.34 L312.70 243.62 L314.30 242.41 L315.90 241.77 L317.50 241.41 L319.10 240.58 L320.70 239.91 L322.30 239.41 L323.90 239.18 L325.50 238.27 L327.10 237.79 L328.70 237.03 L330.30 236.48 L331.90 235.86 L333.50 235.85 L335.10 234.92 L336.70 234.81 L338.30 233.68 L339.90 233.57 L341.50 232.18 L343.10 232.01 L344.70 231.62 L346.30 230.93 L347.90 230.64 L349.50 229.90 L351.10 229.73 L352.70 229.15 L354.30 229.00 L355.90 228.55 L357.50 227.99 L359.10 227.93 L360.70 227.86 L362.30 227.23 L363.90 227.59 L365.50 227.94 L367.10 227.41 L368.70 227.73 L370.30 227.85 L371.90 227.49 L373.50 228.42 L375.10 229.07 L376.70 228.09 L378.30 229.50 L379.90 228.82 L381.50 229.94 L383.10 229.17 L384.70 230.61 L386.30 230.67 L387.90 230.61 L389.50 231.22 L391.10 231.60 L392.70 232.13 L394.30 233.06 L395.90 233.36 L397.50 233.04 L399.10 234.32 L400.70 235.10 L402.30 235.49 L403.90 236.58 L405.50 235.86 L407.10 237.13 L408.70 237.59 L410.30 238.37 L411.90 238.19 L413.50 238.75 L415.10 239.70 L416.70 240.34 L418.30 240.22 L419.90 241.55 L421.50 241.97 L423.10 242.79 L424.70 242.17 L426.30 243.83 L427.90 243.91" stroke="#2b97d5" stroke-width="0.7" fill="none" stroke-linejoin="round" stroke-linecap="round"/>
<path d="M304.70 245.20 L306.30 245.03 L307.90 244.74 L309.50 243.59 L311.10 242.89 L312.70 242.78 L314.30 241.40 L315.90 241.05 L317.50 240.33 L319.10 239.56 L320.70 239.38 L322.30 239.43 L323.90 238.21 L325.50 237.71 L327.10 236.94 L328.70 236.77 L330.30 235.86 L331.90 234.91 L333.50 234.69 L335.10 234.60 L336.70 233.51 L338.30 233.42 L339.90 232.44 L341.50 232.65 L343.10 231.52 L344.70 231.15 L346.30 230.33 L347.90 230.26 L349.50 229.43 L351.10 228.56 L352.70 228.79 L354.30 227.88 L355.90 228.48 L357.50 227.94 L359.10 227.40 L360.70 227.42 L362.30 226.10 L363.90 227.44 L365.50 226.62 L367.10 227.09 L368.70 227.81 L370.30 226.44 L371.90 227.01 L373.50 227.48 L375.10 227.74 L376.70 227.27 L378.30 227.85 L379.90 229.04 L381.50 228.67 L383.10 229.46 L384.70 229.19 L386.30 229.78 L387.90 229.91 L389.50 231.10 L391.10 231.89 L392.70 232.00 L394.30 232.36 L395.90 233.04 L397.50 233.63 L399.10 233.88 L400.70 234.70 L402.30 235.72 L403.90 236.35 L405.50 235.90 L407.10 236.20 L408.70 237.86 L410.30 238.08 L411.90 238.71 L413.50 239.05 L415.10 239.32 L416.70 240.30 L418.30 240.91 L419.90 241.49 L421.50 241.26 L423.10 242.58 L424.70 242.66 L426.30 243.22 L427.90 244.05" stroke="#249bd8" stroke-width="0.7" fill="none" stroke-linejoin="round" stroke-linecap="round"/>
<path d="M304.70 244.46 L306.30 244.79 L307.90 243.56 L309.50 242.85 L311.10 242.08 L312.70 241.63 L314.30 240.86 L315.90 240.54 L317.50 240.04 L319.10 239.43 L320.70 238.10 L322.30 237.83 L323.90 237.39 L325.50 236.35 L327.10 236.33 L328.70 235.57 L330.30 235.06 L331.90 234.61 L333.50 233.69 L335.10 233.90 L336.70 233.17 L338.30 232.07 L339.90 231.89 L341.50 231.47 L343.10 230.43 L344.70 230.07 L346.30 229.96 L347.90 228.34 L349.50 228.34 L351.10 228.49 L352.70 228.20 L354.30 227.28 L355.90 227.58 L357.50 227.76 L359.10 226.80 L360.70 226.50 L362.30 226.38 L363.90 225.90 L365.50 226.40 L367.10 226.28 L368.70 226.54 L370.30 226.89 L371.90 226.56 L373.50 226.82 L375.10 227.12 L376.70 227.90 L378.30 227.09 L379.90 227.96 L381.50 228.11 L383.10 228.78 L384.70 229.44 L386.30 229.61 L387.90 230.30 L389.50 230.58 L391.10 230.74 L392.70 231.25 L394.30 231.50 L395.90 232.58 L397.50 232.88 L399.10 233.84 L400.70 234.41 L402.30 234.30 L403.90 234.77 L405.50 235.91 L407.10 235.94 L408.70 236.87 L410.30 237.57 L411.90 237.78 L413.50 239.10 L415.10 238.77 L416.70 239.76 L418.30 240.03 L419.90 239.73 L421.50 241.26 L423.10 241.84 L424.70 242.67 L426.30 243.00 L427.90 243.37" stroke="#1ea0dc" stroke-width="0.7" fill="none" stroke-linejoin="round" stroke-linecap="round"/>
</g>
<path d="M305.7 222.7 H428.0" stroke="#555" stroke-width="1.1" stroke-dasharray="4.1 3.9" stroke-dashoffset="-2"/>
<rect x="305.70" y="209.60" width="122.30" height="63.40" fill="none" stroke="#231f20" stroke-width="0.9"/>
<path d="M320.88 273.00v-2M320.88 209.60v2M336.15 273.00v-2M336.15 209.60v2M351.43 273.00v-2M351.43 209.60v2M366.70 273.00v-2M366.70 209.60v2M381.98 273.00v-2M381.98 209.60v2M397.25 273.00v-2M397.25 209.60v2M412.53 273.00v-2M412.53 209.60v2" stroke="#231f20" stroke-width="0.8" fill="none"/>
<path d="M305.70 272.50h2M428.00 272.50h-2M305.70 257.80h2M428.00 257.80h-2M305.70 243.10h2M428.00 243.10h-2M305.70 228.40h2M428.00 228.40h-2M305.70 213.70h2M428.00 213.70h-2" stroke="#231f20" stroke-width="0.8" fill="none"/>
<text x="320.88" y="282.30" font-size="7.2" text-anchor="middle" fill="#231f20">1260</text>
<text x="351.43" y="282.30" font-size="7.2" text-anchor="middle" fill="#231f20">1270</text>
<text x="381.98" y="282.30" font-size="7.2" text-anchor="middle" fill="#231f20">1280</text>
<text x="412.53" y="282.30" font-size="7.2" text-anchor="middle" fill="#231f20">1290</text>
<text x="302.20" y="275.00" font-size="7.2" text-anchor="end" fill="#231f20">−8</text>
<text x="302.20" y="260.30" font-size="7.2" text-anchor="end" fill="#231f20">−4</text>
<text x="302.20" y="245.60" font-size="7.2" text-anchor="end" fill="#231f20">0</text>
<text x="302.20" y="230.90" font-size="7.2" text-anchor="end" fill="#231f20">4</text>
<text x="302.20" y="216.20" font-size="7.2" text-anchor="end" fill="#231f20">8</text>
<text x="366.60" y="292.30" font-size="7.6" text-anchor="middle" fill="#231f20">Wavelength (nm)</text>
<text x="290.60" y="241.30" font-size="7.2" text-anchor="middle" fill="#231f20" transform="rotate(-90 290.60 241.30)">Net modal gain (cm<tspan font-size="5" dy="-3">−1</tspan><tspan dy="3">)</tspan></text>
<text x="358.40" y="217.70" font-size="7.5" text-anchor="start" fill="#231f20">Threshold g<tspan font-size="5" dy="2.4">net,modal</tspan></text>
<text x="310.70" y="231.80" font-size="7.5" text-anchor="start" fill="#231f20">14.5 mA</text>
<text x="370.00" y="256.90" font-size="7.5" text-anchor="start" fill="#231f20">8.5 mA</text>
<path d="M370.4 248.7 L364.6 229.5" stroke="#3a3a3a" stroke-width="1.3"/>
<path d="M362.4 223 L367.6 231.5 L361.4 233 Z" fill="#3a3a3a"/>
<defs><clipPath id="clipf"><rect x="510.7" y="199.9" width="166.9" height="133.6"/></clipPath></defs>
<g clip-path="url(#clipf)">
<path d="M510.70 266.31 L511.40 270.99 L512.10 270.29 L512.80 277.18 L513.50 277.43 L514.20 275.54 L514.90 280.63 L515.60 282.29 L516.30 266.91 L517.00 280.05 L517.70 269.03 L518.40 279.03 L519.10 268.36 L519.80 269.46 L520.50 271.50 L521.20 277.50 L521.90 277.46 L522.60 277.98 L523.30 277.61 L524.00 274.67 L524.70 276.83 L525.40 270.87 L526.10 279.02 L526.80 280.15 L527.50 284.14 L528.20 274.58 L528.90 273.25 L529.60 277.51 L530.30 278.65 L531.00 277.51 L531.70 272.89 L532.40 276.49 L533.10 277.79 L533.80 281.97 L534.50 278.67 L535.20 279.24 L535.90 274.57 L536.60 280.62 L537.30 283.59 L538.00 280.63 L538.70 275.35 L539.40 271.81 L540.10 267.19 L540.80 281.50 L541.50 280.78 L542.20 274.76 L542.90 278.19 L543.60 275.67 L544.30 277.42 L545.00 272.97 L545.70 276.25 L546.40 279.86 L547.10 280.39 L547.80 278.89 L548.50 277.18 L549.20 272.92 L549.90 264.89 L550.60 275.12 L551.30 278.68 L552.00 280.09 L552.70 280.82 L553.40 275.22 L554.10 280.42 L554.80 281.93 L555.50 277.14 L556.20 274.26 L556.90 280.21 L557.60 276.45 L558.30 277.67 L559.00 275.28 L559.70 278.74 L560.40 281.99 L561.10 279.83 L561.80 279.31 L562.50 271.22 L563.20 280.52 L563.90 278.83 L564.60 275.14 L565.30 273.04 L566.00 273.49 L566.70 279.33 L567.40 275.42 L568.10 269.87 L568.80 272.57 L569.50 271.12 L570.20 271.91 L570.90 274.01 L571.60 265.07 L572.30 269.86 L573.00 275.53 L573.70 273.41 L574.40 273.90 L575.10 271.43 L575.80 271.04 L576.50 274.12 L577.20 277.79 L577.90 269.81 L578.60 278.41 L579.30 279.69 L580.00 267.06 L580.70 272.00 L581.40 270.01 L582.10 279.45 L582.80 274.63 L583.50 272.29 L584.20 273.05 L584.90 272.50 L585.60 276.86 L586.30 275.01 L587.00 274.44 L587.70 273.15 L588.40 273.37 L589.10 270.64 L589.80 270.48 L590.50 274.08 L591.20 279.01 L591.90 272.37 L592.60 277.72 L593.30 276.98 L594.00 277.81 L594.70 277.90 L595.40 277.39 L596.10 272.05 L596.80 279.79 L597.50 278.84 L598.20 280.28 L598.90 275.41 L599.60 281.70 L600.30 284.85 L601.00 277.32 L601.70 275.87 L602.40 272.78 L603.10 274.61 L603.80 280.71 L604.50 276.45 L605.20 273.38 L605.90 277.51 L606.60 280.16 L607.30 275.83 L608.00 276.68 L608.70 271.58 L609.40 275.40 L610.10 279.92 L610.80 282.62 L611.50 277.44 L612.20 274.52 L612.90 267.75 L613.60 275.86 L614.30 276.21 L615.00 272.45 L615.70 270.20 L616.40 271.29 L617.10 276.94 L617.80 276.03 L618.50 273.05 L619.20 271.99 L619.90 269.47 L620.60 272.24 L621.30 274.77 L622.00 275.65 L622.70 279.99 L623.40 273.99 L624.10 277.72 L624.80 276.16 L625.50 274.01 L626.20 274.74 L626.90 269.52 L627.60 270.79 L628.30 271.20 L629.00 274.41 L629.70 270.41 L630.40 274.86 L631.10 273.91 L631.80 269.02 L632.50 276.18 L633.20 273.89 L633.90 272.04 L634.60 272.27 L635.30 269.47 L636.00 266.12 L636.70 272.31 L637.40 272.74 L638.10 269.69 L638.80 267.10 L639.50 269.87 L640.20 271.16 L640.90 274.56 L641.60 279.92 L642.30 272.47 L643.00 274.99 L643.70 272.03 L644.40 261.70 L645.10 266.34 L645.80 267.78 L646.50 259.60 L647.20 263.61 L647.90 269.64 L648.60 259.83 L649.30 269.75 L650.00 274.51 L650.70 270.29 L651.40 272.30 L652.10 266.44 L652.80 270.58 L653.50 272.97 L654.20 276.79 L654.90 278.07 L655.60 273.15 L656.30 268.61 L657.00 273.24 L657.70 271.01 L658.40 277.32 L659.10 272.83 L659.80 270.48 L660.50 271.83 L661.20 266.76 L661.90 271.90 L662.60 267.07 L663.30 266.87 L664.00 266.80 L664.70 270.45 L665.40 267.60 L666.10 272.98 L666.80 263.75 L667.50 271.96 L668.20 271.78 L668.90 277.38 L669.60 280.09 L670.30 274.98 L671.00 277.95 L671.70 275.99 L672.40 274.41 L673.10 274.89 L673.80 272.76 L674.50 279.22 L675.20 275.78 L675.90 270.92 L676.60 268.56 L677.30 261.84 L678.00 270.02" stroke="#d40f14" stroke-width="1.5" fill="none" stroke-linejoin="round" stroke-linecap="round"/>
<path d="M510.70 271.40 L511.40 276.90 L512.10 278.58 L512.80 279.24 L513.50 284.97 L514.20 286.99 L514.90 289.71 L515.60 294.63 L516.30 296.56 L517.00 302.26 L517.70 297.08 L518.40 298.18 L519.10 306.80 L519.80 302.68 L520.50 314.23 L521.20 307.62 L521.90 306.02 L522.60 295.48 L523.30 301.71 L524.00 300.04 L524.70 294.96 L525.40 290.32 L526.10 293.72 L526.80 290.81 L527.50 297.03 L528.20 297.39 L528.90 301.14 L529.60 293.86 L530.30 297.76 L531.00 292.31 L531.70 295.45 L532.40 296.27 L533.10 292.70 L533.80 299.62 L534.50 292.99 L535.20 291.67 L535.90 301.14 L536.60 291.60 L537.30 293.61 L538.00 289.83 L538.70 294.22 L539.40 304.52 L540.10 292.62 L540.80 290.47 L541.50 290.12 L542.20 301.50 L542.90 297.18 L543.60 291.69 L544.30 294.70 L545.00 297.28 L545.70 295.21 L546.40 290.28 L547.10 289.87 L547.80 286.85 L548.50 288.88 L549.20 294.22 L549.90 293.31 L550.60 297.72 L551.30 290.57 L552.00 283.96 L552.70 296.01 L553.40 289.52 L554.10 283.80 L554.80 285.98 L555.50 282.15 L556.20 284.62 L556.90 290.03 L557.60 279.21 L558.30 283.84 L559.00 287.05 L559.70 287.47 L560.40 286.54 L561.10 287.34 L561.80 295.89 L562.50 290.18 L563.20 291.96 L563.90 286.35 L564.60 290.50 L565.30 291.94 L566.00 291.91 L566.70 292.14 L567.40 290.27 L568.10 288.26 L568.80 293.28 L569.50 293.46 L570.20 300.57 L570.90 297.34 L571.60 295.93 L572.30 299.11 L573.00 295.38 L573.70 299.48 L574.40 292.86 L575.10 300.54 L575.80 294.98 L576.50 290.50 L577.20 296.27 L577.90 300.68 L578.60 293.50 L579.30 295.48 L580.00 300.89 L580.70 295.38 L581.40 300.25 L582.10 295.70 L582.80 300.61 L583.50 300.41 L584.20 299.89 L584.90 299.34 L585.60 296.61 L586.30 301.33 L587.00 297.26 L587.70 291.44 L588.40 296.91 L589.10 288.65 L589.80 295.72 L590.50 293.19 L591.20 297.23 L591.90 294.80 L592.60 296.57 L593.30 297.97 L594.00 300.78 L594.70 296.34 L595.40 304.35 L596.10 300.07 L596.80 296.50 L597.50 298.43 L598.20 303.57 L598.90 302.66 L599.60 300.35 L600.30 292.14 L601.00 291.20 L601.70 293.54 L602.40 292.43 L603.10 298.58 L603.80 301.63 L604.50 304.34 L605.20 298.87 L605.90 304.60 L606.60 298.16 L607.30 306.49 L608.00 301.85 L608.70 303.18 L609.40 301.20 L610.10 299.94 L610.80 306.38 L611.50 304.83 L612.20 305.13 L612.90 303.80 L613.60 299.34 L614.30 301.75 L615.00 302.03 L615.70 297.18 L616.40 304.44 L617.10 305.01 L617.80 305.56 L618.50 307.76 L619.20 298.07 L619.90 300.93 L620.60 292.35 L621.30 289.44 L622.00 288.16 L622.70 290.54 L623.40 296.62 L624.10 293.99 L624.80 294.76 L625.50 287.91 L626.20 292.96 L626.90 287.89 L627.60 294.20 L628.30 290.82 L629.00 285.82 L629.70 295.06 L630.40 288.07 L631.10 286.95 L631.80 298.22 L632.50 301.17 L633.20 295.63 L633.90 294.52 L634.60 293.19 L635.30 298.93 L636.00 291.36 L636.70 301.38 L637.40 301.92 L638.10 298.75 L638.80 296.36 L639.50 296.74 L640.20 292.02 L640.90 286.88 L641.60 298.67 L642.30 295.65 L643.00 302.25 L643.70 295.79 L644.40 297.59 L645.10 301.40 L645.80 299.67 L646.50 298.10 L647.20 293.63 L647.90 292.32 L648.60 295.18 L649.30 295.05 L650.00 298.63 L650.70 293.10 L651.40 294.15 L652.10 294.90 L652.80 302.24 L653.50 301.90 L654.20 296.36 L654.90 294.34 L655.60 296.81 L656.30 295.88 L657.00 293.96 L657.70 294.52 L658.40 299.39 L659.10 299.47 L659.80 291.82 L660.50 296.45 L661.20 299.22 L661.90 298.39 L662.60 302.86 L663.30 307.56 L664.00 302.37 L664.70 305.47 L665.40 303.05 L666.10 314.37 L666.80 297.71 L667.50 303.54 L668.20 306.14 L668.90 310.09 L669.60 302.15 L670.30 303.73 L671.00 304.40 L671.70 298.68 L672.40 306.17 L673.10 300.84 L673.80 303.80 L674.50 298.39 L675.20 305.56 L675.90 301.65 L676.60 294.90 L677.30 300.57 L678.00 302.41" stroke="#1268ae" stroke-width="1.5" fill="none" stroke-linejoin="round" stroke-linecap="round"/>
</g>
<rect x="510.70" y="199.90" width="166.90" height="133.60" fill="none" stroke="#231f20" stroke-width="1.0"/>
<path d="M527.39 333.50v-2.5M527.39 199.90v2.5M544.08 333.50v-2.5M544.08 199.90v2.5M560.77 333.50v-2.5M560.77 199.90v2.5M577.46 333.50v-2.5M577.46 199.90v2.5M594.15 333.50v-2.5M594.15 199.90v2.5M610.84 333.50v-2.5M610.84 199.90v2.5M627.53 333.50v-2.5M627.53 199.90v2.5M644.22 333.50v-2.5M644.22 199.90v2.5M660.91 333.50v-2.5M660.91 199.90v2.5" stroke="#231f20" stroke-width="0.8" fill="none"/>
<path d="M510.70 218.99h2.5M677.60 218.99h-2.5M510.70 257.16h2.5M677.60 257.16h-2.5M510.70 295.33h2.5M677.60 295.33h-2.5" stroke="#231f20" stroke-width="0.8" fill="none"/>
<text x="510.70" y="347.50" font-size="10" text-anchor="middle" fill="#231f20">0</text>
<text x="544.08" y="347.50" font-size="10" text-anchor="middle" fill="#231f20">2</text>
<text x="577.46" y="347.50" font-size="10" text-anchor="middle" fill="#231f20">4</text>
<text x="610.84" y="347.50" font-size="10" text-anchor="middle" fill="#231f20">6</text>
<text x="644.22" y="347.50" font-size="10" text-anchor="middle" fill="#231f20">8</text>
<text x="677.60" y="347.50" font-size="10" text-anchor="middle" fill="#231f20">10</text>
<text x="505.50" y="222.59" font-size="10" text-anchor="end" fill="#231f20">−120</text>
<text x="505.50" y="260.76" font-size="10" text-anchor="end" fill="#231f20">−140</text>
<text x="505.50" y="298.93" font-size="10" text-anchor="end" fill="#231f20">−160</text>
<text x="505.50" y="337.10" font-size="10" text-anchor="end" fill="#231f20">−180</text>
<text x="594.20" y="362.00" font-size="10.6" text-anchor="middle" fill="#231f20">Frequency (GHz)</text>
<text x="474.20" y="267.50" font-size="10.6" text-anchor="middle" fill="#231f20" transform="rotate(-90 474.20 267.50)">RIN (dBc/Hz)</text>
<text x="466.70" y="202.00" font-size="14.5" text-anchor="start" fill="#000" font-weight="bold">f</text>
<path d="M515.1 210.7 H541" stroke="#1268ae" stroke-width="1.6"/>
<path d="M515.1 224.8 H541" stroke="#d40f14" stroke-width="1.6"/>
<text x="544.60" y="213.90" font-size="7.5" text-anchor="start" fill="#231f20">Power = 4.2 dBm</text>
<text x="544.60" y="228.00" font-size="7.5" text-anchor="start" fill="#231f20">Power = −2.31 dBm</text>
</svg></body></html>
